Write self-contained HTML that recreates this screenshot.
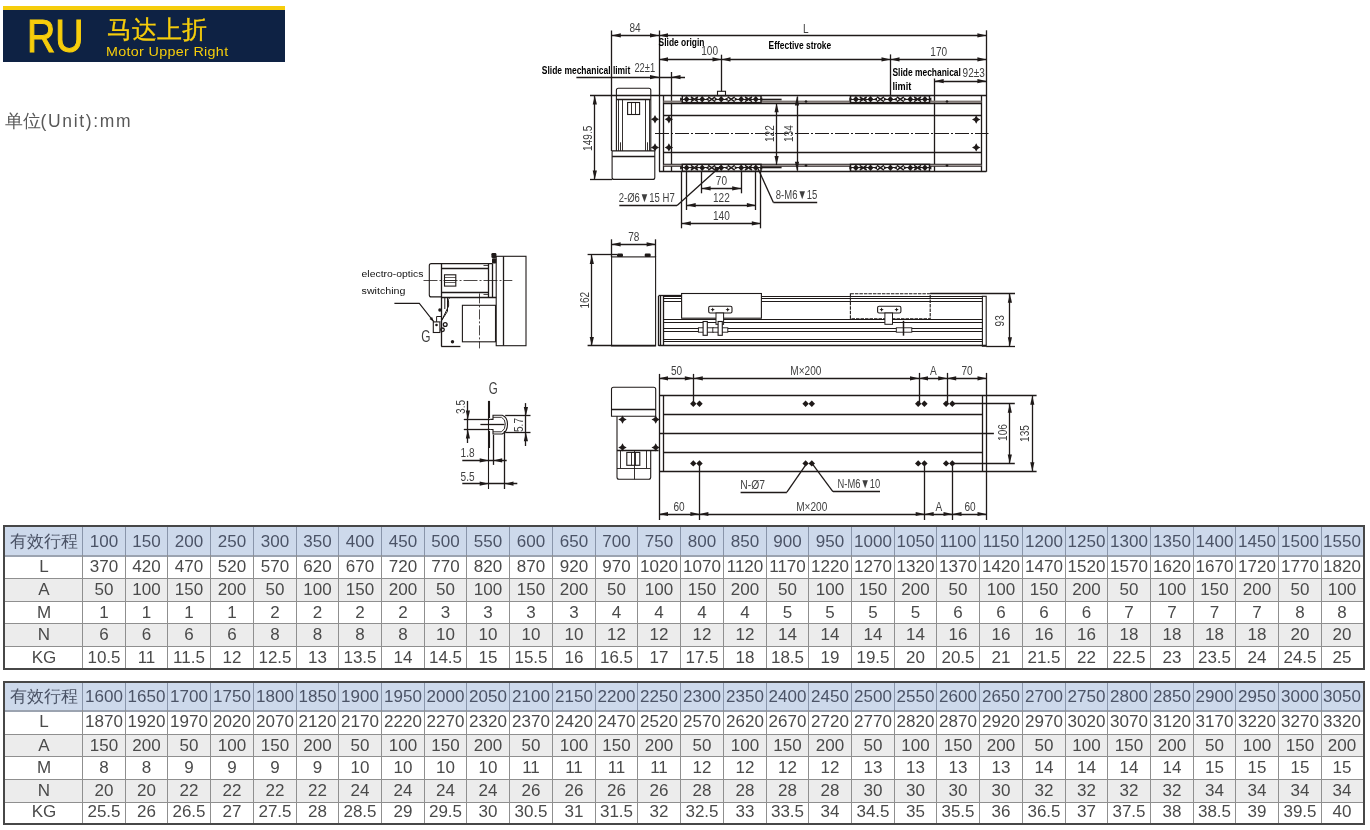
<!DOCTYPE html>
<html><head><meta charset="utf-8">
<style>
html,body{margin:0;padding:0;background:#fff;}
body{width:1370px;height:830px;position:relative;overflow:hidden;font-family:"Liberation Sans", sans-serif;}
#wrap{position:absolute;left:0;top:0;width:1370px;height:830px;will-change:transform;}
.dw{position:absolute;left:0;top:0;}
.tb{position:absolute;box-sizing:border-box;border:2px solid #474747;}
.hc,.bc{position:absolute;text-align:center;font-size:17px;color:#4a4a4a;white-space:nowrap;}
.hc{color:#4b5366;}
#hdr{position:absolute;left:2.6px;top:6px;width:282px;height:56px;background:#0e2244;}
#hdr .yb{position:absolute;left:0;top:0;width:282px;height:4.2px;background:#f6cd0b;}
#hdr .ru{position:absolute;left:24.5px;top:5.5px;font-size:45.5px;line-height:50px;color:#f6cd0b;transform:scaleX(0.86);transform-origin:0 0;-webkit-text-stroke:1.1px #f6cd0b;}
#hdr .cn{position:absolute;left:104px;top:8.5px;font-size:25px;line-height:28px;color:#f6cd0b;-webkit-text-stroke:0.3px #f6cd0b;}
#hdr .en{position:absolute;left:103.5px;top:38px;font-size:13px;line-height:15px;color:#f6cd0b;transform:scaleX(1.1);transform-origin:0 0;letter-spacing:0.3px;}
#unit{position:absolute;left:4.5px;top:111px;font-size:17.5px;line-height:20px;color:#585858;}
#unit span{letter-spacing:1.65px;}
</style></head><body>
<div id="wrap">
<div id="hdr"><div class="yb"></div><div class="ru">RU</div><div class="cn">马达上折</div><div class="en">Motor Upper Right</div></div>
<div id="unit">单位<span>(Unit):mm</span></div>
<svg class="dw" width="1370" height="830" viewBox="0 0 1370 830" font-family="Liberation Sans, sans-serif">
<line x1="611.5" y1="30.5" x2="611.5" y2="151" stroke="#1f1a19" stroke-width="1.3" />
<line x1="659.5" y1="30.5" x2="659.5" y2="171.4" stroke="#1f1a19" stroke-width="1.3" />
<line x1="986.5" y1="30.3" x2="986.5" y2="171.7" stroke="#1f1a19" stroke-width="1.3" />
<line x1="611.8" y1="35.5" x2="659" y2="35.5" stroke="#1f1a19" stroke-width="1.3" />
<path d="M611.80,35.40 L620.80,33.30 L620.80,37.50 Z" fill="#1f1a19"/>
<path d="M659.00,35.40 L650.00,37.50 L650.00,33.30 Z" fill="#1f1a19"/>
<line x1="659" y1="35.5" x2="986.4" y2="35.5" stroke="#1f1a19" stroke-width="1.3" />
<path d="M659.00,35.40 L668.00,33.30 L668.00,37.50 Z" fill="#1f1a19"/>
<path d="M986.40,35.40 L977.40,37.50 L977.40,33.30 Z" fill="#1f1a19"/>
<text transform="translate(635.00,32.32) scale(0.735,1)" text-anchor="middle" font-size="13.7" fill="#3f3f3f">84</text>
<text transform="translate(805.80,32.62) scale(0.735,1)" text-anchor="middle" font-size="13.7" fill="#3f3f3f">L</text>
<text x="658.60" y="45.55" font-size="10" font-weight="bold" fill="#000" textLength="45.8" lengthAdjust="spacingAndGlyphs">Slide origin</text>
<line x1="721.5" y1="54.7" x2="721.5" y2="91.3" stroke="#1f1a19" stroke-width="1.3" />
<line x1="890.5" y1="54.4" x2="890.5" y2="96" stroke="#1f1a19" stroke-width="1.3" />
<line x1="659" y1="59.5" x2="721.5" y2="59.5" stroke="#1f1a19" stroke-width="1.3" />
<path d="M659.00,59.40 L668.00,57.30 L668.00,61.50 Z" fill="#1f1a19"/>
<path d="M721.50,59.40 L712.50,61.50 L712.50,57.30 Z" fill="#1f1a19"/>
<line x1="721.5" y1="59.5" x2="890.5" y2="59.5" stroke="#1f1a19" stroke-width="1.3" />
<path d="M721.50,59.40 L730.50,57.30 L730.50,61.50 Z" fill="#1f1a19"/>
<path d="M890.50,59.40 L881.50,61.50 L881.50,57.30 Z" fill="#1f1a19"/>
<line x1="890.5" y1="59.5" x2="986.4" y2="59.5" stroke="#1f1a19" stroke-width="1.3" />
<path d="M890.50,59.40 L899.50,57.30 L899.50,61.50 Z" fill="#1f1a19"/>
<path d="M986.40,59.40 L977.40,61.50 L977.40,57.30 Z" fill="#1f1a19"/>
<text transform="translate(709.60,54.52) scale(0.735,1)" text-anchor="middle" font-size="13.7" fill="#3f3f3f">100</text>
<text transform="translate(938.70,55.62) scale(0.735,1)" text-anchor="middle" font-size="13.7" fill="#3f3f3f">170</text>
<text x="768.60" y="49.25" font-size="10" font-weight="bold" fill="#000" textLength="62.6" lengthAdjust="spacingAndGlyphs">Effective stroke</text>
<text x="541.80" y="74.35" font-size="10" font-weight="bold" fill="#000" textLength="88.5" lengthAdjust="spacingAndGlyphs">Slide mechanical limit</text>
<text transform="translate(644.80,72.32) scale(1,1)" text-anchor="middle" font-size="13.7" fill="#3f3f3f" textLength="20.8" lengthAdjust="spacingAndGlyphs">22±1</text>
<line x1="576.4" y1="77.5" x2="685" y2="77.5" stroke="#1f1a19" stroke-width="1.3" />
<path d="M659.00,77.10 L650.00,79.20 L650.00,75.00 Z" fill="#1f1a19"/>
<path d="M671.50,77.10 L680.50,75.00 L680.50,79.20 Z" fill="#1f1a19"/>
<line x1="671.5" y1="72" x2="671.5" y2="171.4" stroke="#1f1a19" stroke-width="1.3" />
<text x="892.50" y="75.55" font-size="10" font-weight="bold" fill="#000" textLength="68.4" lengthAdjust="spacingAndGlyphs">Slide mechanical</text>
<text x="892.50" y="90.05" font-size="10" font-weight="bold" fill="#000" textLength="18.8" lengthAdjust="spacingAndGlyphs">limit</text>
<text transform="translate(973.70,76.92) scale(1,1)" text-anchor="middle" font-size="13.7" fill="#3f3f3f" textLength="22.2" lengthAdjust="spacingAndGlyphs">92±3</text>
<line x1="934.7" y1="81.5" x2="986.4" y2="81.5" stroke="#1f1a19" stroke-width="1.3" />
<path d="M934.70,81.10 L943.70,79.00 L943.70,83.20 Z" fill="#1f1a19"/>
<path d="M986.40,81.10 L977.40,83.20 L977.40,79.00 Z" fill="#1f1a19"/>
<line x1="934.5" y1="78.5" x2="934.5" y2="171.7" stroke="#1f1a19" stroke-width="1.3" />
<line x1="590" y1="95.5" x2="986.4" y2="95.5" stroke="#1f1a19" stroke-width="1.3" />
<line x1="659" y1="171.5" x2="986.4" y2="171.5" stroke="#1f1a19" stroke-width="1.3" />
<line x1="663.5" y1="95.6" x2="663.5" y2="171.4" stroke="#1f1a19" stroke-width="1.3" />
<line x1="981.5" y1="96" x2="981.5" y2="171.4" stroke="#1f1a19" stroke-width="1.3" />
<line x1="663.5" y1="115.5" x2="981.6" y2="115.5" stroke="#1f1a19" stroke-width="1.3" />
<line x1="663.5" y1="152.5" x2="981.6" y2="152.5" stroke="#1f1a19" stroke-width="1.3" />
<line x1="655" y1="133.5" x2="988.5" y2="133.5" stroke="#1f1a19" stroke-width="1.0" stroke-dasharray="14,2,2,2"/>
<line x1="663.5" y1="103.5" x2="981.6" y2="103.5" stroke="#1f1a19" stroke-width="1.3" />
<line x1="663.5" y1="164.5" x2="981.6" y2="164.5" stroke="#1f1a19" stroke-width="1.3" />
<line x1="663.5" y1="166.5" x2="981.6" y2="166.5" stroke="#1f1a19" stroke-width="0.8" />
<rect x="663.5" y="100.6" width="318" height="2.2" fill="#7d7572"/>
<rect x="663.5" y="164.6" width="318" height="1.6" fill="#9a9290"/>
<line x1="761.6" y1="99.5" x2="781.6" y2="99.5" stroke="#1f1a19" stroke-width="1.6" />
<line x1="761.6" y1="167.5" x2="781.6" y2="167.5" stroke="#1f1a19" stroke-width="1.6" />
<rect x="682.3" y="95.8" width="78.70000000000005" height="6.8" fill="#fff" stroke="#1f1a19" stroke-width="1.5"/>
<path d="M686.6,96.0 L689.6,99.2 L686.6,102.4 L683.6,99.2 Z" fill="#1f1a19"/>
<line x1="680.6" y1="99.5" x2="692.6" y2="99.5" stroke="#1f1a19" stroke-width="1.1" />
<path d="M683.60,99.20 L680.10,101.00 L680.10,97.40 Z" fill="#1f1a19"/>
<path d="M689.60,99.20 L693.10,97.40 L693.10,101.00 Z" fill="#1f1a19"/>
<path d="M702.2,96.0 L705.2,99.2 L702.2,102.4 L699.2,99.2 Z" fill="#1f1a19"/>
<line x1="696.2" y1="99.5" x2="708.2" y2="99.5" stroke="#1f1a19" stroke-width="1.1" />
<path d="M699.20,99.20 L695.70,101.00 L695.70,97.40 Z" fill="#1f1a19"/>
<path d="M705.20,99.20 L708.70,97.40 L708.70,101.00 Z" fill="#1f1a19"/>
<path d="M721.2,96.0 L724.2,99.2 L721.2,102.4 L718.2,99.2 Z" fill="#1f1a19"/>
<line x1="715.2" y1="99.5" x2="727.2" y2="99.5" stroke="#1f1a19" stroke-width="1.1" />
<path d="M718.20,99.20 L714.70,101.00 L714.70,97.40 Z" fill="#1f1a19"/>
<path d="M724.20,99.20 L727.70,97.40 L727.70,101.00 Z" fill="#1f1a19"/>
<path d="M741.2,96.0 L744.2,99.2 L741.2,102.4 L738.2,99.2 Z" fill="#1f1a19"/>
<line x1="735.2" y1="99.5" x2="747.2" y2="99.5" stroke="#1f1a19" stroke-width="1.1" />
<path d="M738.20,99.20 L734.70,101.00 L734.70,97.40 Z" fill="#1f1a19"/>
<path d="M744.20,99.20 L747.70,97.40 L747.70,101.00 Z" fill="#1f1a19"/>
<path d="M755.8,96.0 L758.8,99.2 L755.8,102.4 L752.8,99.2 Z" fill="#1f1a19"/>
<line x1="749.8" y1="99.5" x2="761.8" y2="99.5" stroke="#1f1a19" stroke-width="1.1" />
<path d="M752.80,99.20 L749.30,101.00 L749.30,97.40 Z" fill="#1f1a19"/>
<path d="M758.80,99.20 L762.30,97.40 L762.30,101.00 Z" fill="#1f1a19"/>
<path d="M690.9000000000001,96.8 L697.9000000000001,101.60000000000001 M690.9000000000001,101.60000000000001 L697.9000000000001,96.8" fill="none" stroke="#1f1a19" stroke-width="1.4" />
<path d="M708.2,96.8 L715.2,101.60000000000001 M708.2,101.60000000000001 L715.2,96.8" fill="none" stroke="#1f1a19" stroke-width="1.4" />
<path d="M727.7,96.8 L734.7,101.60000000000001 M727.7,101.60000000000001 L734.7,96.8" fill="none" stroke="#1f1a19" stroke-width="1.4" />
<path d="M745.0,96.8 L752.0,101.60000000000001 M745.0,101.60000000000001 L752.0,96.8" fill="none" stroke="#1f1a19" stroke-width="1.4" />
<rect x="682.3" y="164.4" width="78.70000000000005" height="6.8" fill="#fff" stroke="#1f1a19" stroke-width="1.5"/>
<path d="M686.6,164.60000000000002 L689.6,167.8 L686.6,171.0 L683.6,167.8 Z" fill="#1f1a19"/>
<line x1="680.6" y1="167.5" x2="692.6" y2="167.5" stroke="#1f1a19" stroke-width="1.1" />
<path d="M683.60,167.80 L680.10,169.60 L680.10,166.00 Z" fill="#1f1a19"/>
<path d="M689.60,167.80 L693.10,166.00 L693.10,169.60 Z" fill="#1f1a19"/>
<path d="M702.2,164.60000000000002 L705.2,167.8 L702.2,171.0 L699.2,167.8 Z" fill="#1f1a19"/>
<line x1="696.2" y1="167.5" x2="708.2" y2="167.5" stroke="#1f1a19" stroke-width="1.1" />
<path d="M699.20,167.80 L695.70,169.60 L695.70,166.00 Z" fill="#1f1a19"/>
<path d="M705.20,167.80 L708.70,166.00 L708.70,169.60 Z" fill="#1f1a19"/>
<path d="M721.2,164.60000000000002 L724.2,167.8 L721.2,171.0 L718.2,167.8 Z" fill="#1f1a19"/>
<line x1="715.2" y1="167.5" x2="727.2" y2="167.5" stroke="#1f1a19" stroke-width="1.1" />
<path d="M718.20,167.80 L714.70,169.60 L714.70,166.00 Z" fill="#1f1a19"/>
<path d="M724.20,167.80 L727.70,166.00 L727.70,169.60 Z" fill="#1f1a19"/>
<path d="M741.2,164.60000000000002 L744.2,167.8 L741.2,171.0 L738.2,167.8 Z" fill="#1f1a19"/>
<line x1="735.2" y1="167.5" x2="747.2" y2="167.5" stroke="#1f1a19" stroke-width="1.1" />
<path d="M738.20,167.80 L734.70,169.60 L734.70,166.00 Z" fill="#1f1a19"/>
<path d="M744.20,167.80 L747.70,166.00 L747.70,169.60 Z" fill="#1f1a19"/>
<path d="M755.8,164.60000000000002 L758.8,167.8 L755.8,171.0 L752.8,167.8 Z" fill="#1f1a19"/>
<line x1="749.8" y1="167.5" x2="761.8" y2="167.5" stroke="#1f1a19" stroke-width="1.1" />
<path d="M752.80,167.80 L749.30,169.60 L749.30,166.00 Z" fill="#1f1a19"/>
<path d="M758.80,167.80 L762.30,166.00 L762.30,169.60 Z" fill="#1f1a19"/>
<path d="M690.9000000000001,165.4 L697.9000000000001,170.20000000000002 M690.9000000000001,170.20000000000002 L697.9000000000001,165.4" fill="none" stroke="#1f1a19" stroke-width="1.4" />
<path d="M708.2,165.4 L715.2,170.20000000000002 M708.2,170.20000000000002 L715.2,165.4" fill="none" stroke="#1f1a19" stroke-width="1.4" />
<path d="M727.7,165.4 L734.7,170.20000000000002 M727.7,170.20000000000002 L734.7,165.4" fill="none" stroke="#1f1a19" stroke-width="1.4" />
<path d="M745.0,165.4 L752.0,170.20000000000002 M745.0,170.20000000000002 L752.0,165.4" fill="none" stroke="#1f1a19" stroke-width="1.4" />
<rect x="850.5" y="95.8" width="79.0" height="6.8" fill="#fff" stroke="#1f1a19" stroke-width="1.5"/>
<path d="M855.9,96.0 L858.9,99.2 L855.9,102.4 L852.9,99.2 Z" fill="#1f1a19"/>
<line x1="849.9" y1="99.5" x2="861.9" y2="99.5" stroke="#1f1a19" stroke-width="1.1" />
<path d="M852.90,99.20 L849.40,101.00 L849.40,97.40 Z" fill="#1f1a19"/>
<path d="M858.90,99.20 L862.40,97.40 L862.40,101.00 Z" fill="#1f1a19"/>
<path d="M870.5,96.0 L873.5,99.2 L870.5,102.4 L867.5,99.2 Z" fill="#1f1a19"/>
<line x1="864.5" y1="99.5" x2="876.5" y2="99.5" stroke="#1f1a19" stroke-width="1.1" />
<path d="M867.50,99.20 L864.00,101.00 L864.00,97.40 Z" fill="#1f1a19"/>
<path d="M873.50,99.20 L877.00,97.40 L877.00,101.00 Z" fill="#1f1a19"/>
<path d="M890.4,96.0 L893.4,99.2 L890.4,102.4 L887.4,99.2 Z" fill="#1f1a19"/>
<line x1="884.4" y1="99.5" x2="896.4" y2="99.5" stroke="#1f1a19" stroke-width="1.1" />
<path d="M887.40,99.20 L883.90,101.00 L883.90,97.40 Z" fill="#1f1a19"/>
<path d="M893.40,99.20 L896.90,97.40 L896.90,101.00 Z" fill="#1f1a19"/>
<path d="M910.3,96.0 L913.3,99.2 L910.3,102.4 L907.3,99.2 Z" fill="#1f1a19"/>
<line x1="904.3" y1="99.5" x2="916.3" y2="99.5" stroke="#1f1a19" stroke-width="1.1" />
<path d="M907.30,99.20 L903.80,101.00 L903.80,97.40 Z" fill="#1f1a19"/>
<path d="M913.30,99.20 L916.80,97.40 L916.80,101.00 Z" fill="#1f1a19"/>
<path d="M924.9,96.0 L927.9,99.2 L924.9,102.4 L921.9,99.2 Z" fill="#1f1a19"/>
<line x1="918.9" y1="99.5" x2="930.9" y2="99.5" stroke="#1f1a19" stroke-width="1.1" />
<path d="M921.90,99.20 L918.40,101.00 L918.40,97.40 Z" fill="#1f1a19"/>
<path d="M927.90,99.20 L931.40,97.40 L931.40,101.00 Z" fill="#1f1a19"/>
<path d="M859.7,96.8 L866.7,101.60000000000001 M859.7,101.60000000000001 L866.7,96.8" fill="none" stroke="#1f1a19" stroke-width="1.4" />
<path d="M876.95,96.8 L883.95,101.60000000000001 M876.95,101.60000000000001 L883.95,96.8" fill="none" stroke="#1f1a19" stroke-width="1.4" />
<path d="M896.8499999999999,96.8 L903.8499999999999,101.60000000000001 M896.8499999999999,101.60000000000001 L903.8499999999999,96.8" fill="none" stroke="#1f1a19" stroke-width="1.4" />
<path d="M914.0999999999999,96.8 L921.0999999999999,101.60000000000001 M914.0999999999999,101.60000000000001 L921.0999999999999,96.8" fill="none" stroke="#1f1a19" stroke-width="1.4" />
<rect x="850.5" y="164.4" width="79.0" height="6.8" fill="#fff" stroke="#1f1a19" stroke-width="1.5"/>
<path d="M855.9,164.60000000000002 L858.9,167.8 L855.9,171.0 L852.9,167.8 Z" fill="#1f1a19"/>
<line x1="849.9" y1="167.5" x2="861.9" y2="167.5" stroke="#1f1a19" stroke-width="1.1" />
<path d="M852.90,167.80 L849.40,169.60 L849.40,166.00 Z" fill="#1f1a19"/>
<path d="M858.90,167.80 L862.40,166.00 L862.40,169.60 Z" fill="#1f1a19"/>
<path d="M870.5,164.60000000000002 L873.5,167.8 L870.5,171.0 L867.5,167.8 Z" fill="#1f1a19"/>
<line x1="864.5" y1="167.5" x2="876.5" y2="167.5" stroke="#1f1a19" stroke-width="1.1" />
<path d="M867.50,167.80 L864.00,169.60 L864.00,166.00 Z" fill="#1f1a19"/>
<path d="M873.50,167.80 L877.00,166.00 L877.00,169.60 Z" fill="#1f1a19"/>
<path d="M890.4,164.60000000000002 L893.4,167.8 L890.4,171.0 L887.4,167.8 Z" fill="#1f1a19"/>
<line x1="884.4" y1="167.5" x2="896.4" y2="167.5" stroke="#1f1a19" stroke-width="1.1" />
<path d="M887.40,167.80 L883.90,169.60 L883.90,166.00 Z" fill="#1f1a19"/>
<path d="M893.40,167.80 L896.90,166.00 L896.90,169.60 Z" fill="#1f1a19"/>
<path d="M910.3,164.60000000000002 L913.3,167.8 L910.3,171.0 L907.3,167.8 Z" fill="#1f1a19"/>
<line x1="904.3" y1="167.5" x2="916.3" y2="167.5" stroke="#1f1a19" stroke-width="1.1" />
<path d="M907.30,167.80 L903.80,169.60 L903.80,166.00 Z" fill="#1f1a19"/>
<path d="M913.30,167.80 L916.80,166.00 L916.80,169.60 Z" fill="#1f1a19"/>
<path d="M924.9,164.60000000000002 L927.9,167.8 L924.9,171.0 L921.9,167.8 Z" fill="#1f1a19"/>
<line x1="918.9" y1="167.5" x2="930.9" y2="167.5" stroke="#1f1a19" stroke-width="1.1" />
<path d="M921.90,167.80 L918.40,169.60 L918.40,166.00 Z" fill="#1f1a19"/>
<path d="M927.90,167.80 L931.40,166.00 L931.40,169.60 Z" fill="#1f1a19"/>
<path d="M859.7,165.4 L866.7,170.20000000000002 M859.7,170.20000000000002 L866.7,165.4" fill="none" stroke="#1f1a19" stroke-width="1.4" />
<path d="M876.95,165.4 L883.95,170.20000000000002 M876.95,170.20000000000002 L883.95,165.4" fill="none" stroke="#1f1a19" stroke-width="1.4" />
<path d="M896.8499999999999,165.4 L903.8499999999999,170.20000000000002 M896.8499999999999,170.20000000000002 L903.8499999999999,165.4" fill="none" stroke="#1f1a19" stroke-width="1.4" />
<path d="M914.0999999999999,165.4 L921.0999999999999,170.20000000000002 M914.0999999999999,170.20000000000002 L921.0999999999999,165.4" fill="none" stroke="#1f1a19" stroke-width="1.4" />
<rect x="717.5" y="91.3" width="8" height="4.3" rx="0" fill="none" stroke="#1f1a19" stroke-width="1.1" />
<line x1="776.5" y1="103.3" x2="776.5" y2="165" stroke="#1f1a19" stroke-width="1.3" />
<path d="M776.60,103.30 L778.70,112.30 L774.50,112.30 Z" fill="#1f1a19"/>
<path d="M776.60,165.00 L774.50,156.00 L778.70,156.00 Z" fill="#1f1a19"/>
<line x1="797.5" y1="96.4" x2="797.5" y2="170.8" stroke="#1f1a19" stroke-width="1.3" />
<path d="M797.00,96.40 L799.10,105.40 L794.90,105.40 Z" fill="#1f1a19"/>
<path d="M797.00,170.80 L794.90,161.80 L799.10,161.80 Z" fill="#1f1a19"/>
<text transform="translate(773.52,133.60) rotate(-90) scale(0.735,1)" text-anchor="middle" font-size="13.7" fill="#3f3f3f">122</text>
<text transform="translate(792.92,133.60) rotate(-90) scale(0.735,1)" text-anchor="middle" font-size="13.7" fill="#3f3f3f">134</text>
<path d="M655,115.1 L656.5,117.8 L659.2,119.3 L656.5,120.8 L655,123.5 L653.5,120.8 L650.8,119.3 L653.5,117.8 Z" fill="#1f1a19"/>
<path d="M655,143.20000000000002 L656.5,145.9 L659.2,147.4 L656.5,148.9 L655,151.6 L653.5,148.9 L650.8,147.4 L653.5,145.9 Z" fill="#1f1a19"/>
<path d="M668.9,115.1 L670.4,117.8 L673.1,119.3 L670.4,120.8 L668.9,123.5 L667.4,120.8 L664.6999999999999,119.3 L667.4,117.8 Z" fill="#1f1a19"/>
<path d="M668.9,143.20000000000002 L670.4,145.9 L673.1,147.4 L670.4,148.9 L668.9,151.6 L667.4,148.9 L664.6999999999999,147.4 L667.4,145.9 Z" fill="#1f1a19"/>
<path d="M976.2,115.3 L977.7,118.0 L980.4000000000001,119.5 L977.7,121.0 L976.2,123.7 L974.7,121.0 L972.0,119.5 L974.7,118.0 Z" fill="#1f1a19"/>
<path d="M976.2,143.20000000000002 L977.7,145.9 L980.4000000000001,147.4 L977.7,148.9 L976.2,151.6 L974.7,148.9 L972.0,147.4 L974.7,145.9 Z" fill="#1f1a19"/>
<path d="M806,99.9 L807.6,101.5 L806,103.1 L804.4,101.5 Z" fill="#1f1a19"/>
<path d="M806,163.9 L807.6,165.5 L806,167.1 L804.4,165.5 Z" fill="#1f1a19"/>
<path d="M947,99.9 L948.6,101.5 L947,103.1 L945.4,101.5 Z" fill="#1f1a19"/>
<path d="M947,163.9 L948.6,165.5 L947,167.1 L945.4,165.5 Z" fill="#1f1a19"/>
<path d="M616.4,150.9 L616.4,90.2 Q616.4,88.2 618.4,88.2 L648.8,88.2 Q650.8,88.2 650.8,90.2 L650.8,150.9" fill="none" stroke="#1f1a19" stroke-width="1.1" />
<line x1="616.4" y1="99.5" x2="650.8" y2="99.5" stroke="#1f1a19" stroke-width="1.3" />
<line x1="618.5" y1="99.2" x2="618.5" y2="150.9" stroke="#1f1a19" stroke-width="0.9" />
<line x1="622.5" y1="99.2" x2="622.5" y2="150.9" stroke="#1f1a19" stroke-width="0.9" />
<line x1="645.5" y1="99.2" x2="645.5" y2="150.9" stroke="#1f1a19" stroke-width="0.9" />
<line x1="649.5" y1="99.2" x2="649.5" y2="150.9" stroke="#1f1a19" stroke-width="0.9" />
<rect x="627.6" y="102.5" width="12" height="12" rx="0" fill="none" stroke="#1f1a19" stroke-width="1.1" />
<line x1="620.5" y1="142.3" x2="620.5" y2="150.9" stroke="#1f1a19" stroke-width="0.9" />
<line x1="647.5" y1="142.3" x2="647.5" y2="150.9" stroke="#1f1a19" stroke-width="0.9" />
<line x1="631.5" y1="102.5" x2="631.5" y2="114.5" stroke="#1f1a19" stroke-width="0.9" />
<line x1="635.5" y1="102.5" x2="635.5" y2="114.5" stroke="#1f1a19" stroke-width="0.9" />
<path d="M612.1,150.9 L654.8,150.9 L654.8,177.4 Q654.8,179.4 652.8,179.4 L614.1,179.4 Q612.1,179.4 612.1,177.4 Z" fill="none" stroke="#1f1a19" stroke-width="1.1" />
<line x1="612.1" y1="156.5" x2="654.8" y2="156.5" stroke="#1f1a19" stroke-width="1.3" />
<line x1="590" y1="179.5" x2="612.1" y2="179.5" stroke="#1f1a19" stroke-width="1.3" />
<line x1="594.5" y1="95.6" x2="594.5" y2="179.4" stroke="#1f1a19" stroke-width="1.3" />
<path d="M594.80,95.60 L596.90,104.60 L592.70,104.60 Z" fill="#1f1a19"/>
<path d="M594.80,179.40 L592.70,170.40 L596.90,170.40 Z" fill="#1f1a19"/>
<text transform="translate(591.72,138.30) rotate(-90) scale(0.735,1)" text-anchor="middle" font-size="13.7" fill="#3f3f3f">149.5</text>
<line x1="681.5" y1="171.4" x2="681.5" y2="228.3" stroke="#1f1a19" stroke-width="1.3" />
<line x1="760.5" y1="171.4" x2="760.5" y2="228.3" stroke="#1f1a19" stroke-width="1.3" />
<line x1="681.8" y1="223.5" x2="760.8" y2="223.5" stroke="#1f1a19" stroke-width="1.3" />
<path d="M681.80,223.40 L690.80,221.30 L690.80,225.50 Z" fill="#1f1a19"/>
<path d="M760.80,223.40 L751.80,225.50 L751.80,221.30 Z" fill="#1f1a19"/>
<text transform="translate(721.40,219.72) scale(0.735,1)" text-anchor="middle" font-size="13.7" fill="#3f3f3f">140</text>
<line x1="686.5" y1="171.4" x2="686.5" y2="210" stroke="#1f1a19" stroke-width="1.3" />
<line x1="755.5" y1="171.4" x2="755.5" y2="210" stroke="#1f1a19" stroke-width="1.3" />
<line x1="686.7" y1="205.5" x2="755.9" y2="205.5" stroke="#1f1a19" stroke-width="1.3" />
<path d="M686.70,205.20 L695.70,203.10 L695.70,207.30 Z" fill="#1f1a19"/>
<path d="M755.90,205.20 L746.90,207.30 L746.90,203.10 Z" fill="#1f1a19"/>
<text transform="translate(721.40,201.62) scale(0.735,1)" text-anchor="middle" font-size="13.7" fill="#3f3f3f">122</text>
<line x1="701.5" y1="171.4" x2="701.5" y2="193.3" stroke="#1f1a19" stroke-width="1.3" />
<line x1="741.5" y1="171.4" x2="741.5" y2="193.3" stroke="#1f1a19" stroke-width="1.3" />
<line x1="701.6" y1="188.5" x2="741.2" y2="188.5" stroke="#1f1a19" stroke-width="1.3" />
<path d="M701.60,188.40 L710.60,186.30 L710.60,190.50 Z" fill="#1f1a19"/>
<path d="M741.20,188.40 L732.20,190.50 L732.20,186.30 Z" fill="#1f1a19"/>
<text transform="translate(721.40,185.22) scale(0.735,1)" text-anchor="middle" font-size="13.7" fill="#3f3f3f">70</text>
<text transform="translate(646.70,201.62) scale(1,1)" text-anchor="middle" font-size="13.7" fill="#3f3f3f" textLength="56" lengthAdjust="spacingAndGlyphs">2-Ø6▼15 H7</text>
<line x1="619.3" y1="205.5" x2="677.1" y2="205.5" stroke="#1f1a19" stroke-width="1.3" />
<line x1="677.1" y1="205.5" x2="720.9" y2="166.1" stroke="#1f1a19" stroke-width="1.3" />
<path d="M720.90,166.10 L717.03,172.27 L714.36,169.29 Z" fill="#1f1a19"/>
<text transform="translate(796.60,199.02) scale(1,1)" text-anchor="middle" font-size="13.7" fill="#3f3f3f" textLength="41.6" lengthAdjust="spacingAndGlyphs">8-M6▼15</text>
<line x1="773.4" y1="202.5" x2="817.2" y2="202.5" stroke="#1f1a19" stroke-width="1.3" />
<line x1="773.4" y1="202.4" x2="757.7" y2="167.9" stroke="#1f1a19" stroke-width="1.3" />
<line x1="611.5" y1="239.3" x2="611.5" y2="257" stroke="#1f1a19" stroke-width="1.3" />
<line x1="655.5" y1="239.3" x2="655.5" y2="257" stroke="#1f1a19" stroke-width="1.3" />
<line x1="611.6" y1="244.5" x2="655.6" y2="244.5" stroke="#1f1a19" stroke-width="1.3" />
<path d="M611.60,244.30 L620.60,242.20 L620.60,246.40 Z" fill="#1f1a19"/>
<path d="M655.60,244.30 L646.60,246.40 L646.60,242.20 Z" fill="#1f1a19"/>
<text transform="translate(633.80,240.92) scale(0.735,1)" text-anchor="middle" font-size="13.7" fill="#3f3f3f">78</text>
<line x1="587.6" y1="254.5" x2="617" y2="254.5" stroke="#1f1a19" stroke-width="1.3" />
<line x1="587.6" y1="345.5" x2="655.6" y2="345.5" stroke="#1f1a19" stroke-width="1.3" />
<line x1="591.5" y1="254.9" x2="591.5" y2="345.9" stroke="#1f1a19" stroke-width="1.3" />
<path d="M591.80,254.90 L593.90,263.90 L589.70,263.90 Z" fill="#1f1a19"/>
<path d="M591.80,345.90 L589.70,336.90 L593.90,336.90 Z" fill="#1f1a19"/>
<text transform="translate(588.82,300.20) rotate(-90) scale(0.735,1)" text-anchor="middle" font-size="13.7" fill="#3f3f3f">162</text>
<rect x="611.6" y="256.9" width="44" height="89" rx="0" fill="none" stroke="#1f1a19" stroke-width="1.1" />
<rect x="617" y="253.6" width="6" height="3.3" rx="1.2" fill="#1f1a19"/>
<rect x="644.7" y="253.6" width="6" height="3.3" rx="1.2" fill="#1f1a19"/>
<line x1="658.5" y1="295.8" x2="658.5" y2="345.9" stroke="#1f1a19" stroke-width="1.3" />
<line x1="660.5" y1="295.8" x2="660.5" y2="345.9" stroke="#1f1a19" stroke-width="1.3" />
<line x1="663.5" y1="295.8" x2="663.5" y2="345.9" stroke="#1f1a19" stroke-width="1.3" />
<line x1="658.6" y1="295.5" x2="681.6" y2="295.5" stroke="#1f1a19" stroke-width="1.3" />
<line x1="663.2" y1="296.5" x2="982.4" y2="296.5" stroke="#1f1a19" stroke-width="1.1" />
<line x1="663.2" y1="298.5" x2="982.4" y2="298.5" stroke="#1f1a19" stroke-width="1.1" />
<line x1="663.2" y1="301.5" x2="982.4" y2="301.5" stroke="#1f1a19" stroke-width="1.1" />
<line x1="663.2" y1="319.5" x2="982.4" y2="319.5" stroke="#1f1a19" stroke-width="1.1" />
<line x1="663.2" y1="322.5" x2="982.4" y2="322.5" stroke="#1f1a19" stroke-width="1.1" />
<line x1="663.2" y1="328.5" x2="982.4" y2="328.5" stroke="#1f1a19" stroke-width="1.1" />
<line x1="663.2" y1="331.5" x2="982.4" y2="331.5" stroke="#1f1a19" stroke-width="1.1" />
<line x1="663.2" y1="339.5" x2="982.4" y2="339.5" stroke="#1f1a19" stroke-width="1.1" />
<line x1="663.2" y1="341.5" x2="982.4" y2="341.5" stroke="#1f1a19" stroke-width="1.1" />
<line x1="663.2" y1="345.5" x2="982.4" y2="345.5" stroke="#1f1a19" stroke-width="1.1" />
<line x1="658.6" y1="345.5" x2="986.2" y2="345.5" stroke="#1f1a19" stroke-width="1.3" />
<rect x="982.4" y="296.3" width="3.8" height="49.9" rx="0" fill="none" stroke="#1f1a19" stroke-width="1.1" />
<rect x="681.6" y="293.5" width="79.8" height="24.7" fill="#fff" stroke="#1f1a19" stroke-width="1.1"/>
<rect x="850.4" y="293.7" width="79.8" height="25" fill="none" stroke="#1f1a19" stroke-width="1.1" stroke-dasharray="3.5,1"/>
<rect x="708.7" y="306.2" width="23.3" height="6.8" rx="1.5" fill="none" stroke="#1f1a19" stroke-width="1.1" />
<path d="M712.7,307.40000000000003 L713.4000000000001,308.90000000000003 L714.9000000000001,309.6 L713.4000000000001,310.3 L712.7,311.8 L712.0,310.3 L710.5,309.6 L712.0,308.90000000000003 Z" fill="#1f1a19"/>
<path d="M727.7,307.40000000000003 L728.4000000000001,308.90000000000003 L729.9000000000001,309.6 L728.4000000000001,310.3 L727.7,311.8 L727.0,310.3 L725.5,309.6 L727.0,308.90000000000003 Z" fill="#1f1a19"/>
<rect x="716.0" y="313" width="7.6" height="11.3" fill="#fff" stroke="#1f1a19" stroke-width="1.0"/>
<rect x="877.6" y="306.2" width="23.3" height="6.8" rx="1.5" fill="none" stroke="#1f1a19" stroke-width="1.1" />
<path d="M881.6,307.40000000000003 L882.3000000000001,308.90000000000003 L883.8000000000001,309.6 L882.3000000000001,310.3 L881.6,311.8 L880.9,310.3 L879.4,309.6 L880.9,308.90000000000003 Z" fill="#1f1a19"/>
<path d="M896.6,307.40000000000003 L897.3000000000001,308.90000000000003 L898.8000000000001,309.6 L897.3000000000001,310.3 L896.6,311.8 L895.9,310.3 L894.4,309.6 L895.9,308.90000000000003 Z" fill="#1f1a19"/>
<rect x="884.9" y="313" width="7.6" height="11.3" fill="#fff" stroke="#1f1a19" stroke-width="1.0"/>
<rect x="698.4" y="327.8" width="15" height="4.4" fill="#fff" stroke="#1f1a19" stroke-width="0.9"/>
<rect x="712.8" y="327.8" width="15" height="4.4" fill="#fff" stroke="#1f1a19" stroke-width="0.9"/>
<rect x="703.1" y="321.5" width="4.2" height="13.8" fill="#fff" stroke="#1f1a19" stroke-width="1.1"/>
<rect x="718.1" y="321.5" width="4.2" height="13.8" fill="#fff" stroke="#1f1a19" stroke-width="1.1"/>
<rect x="896.3" y="327.8" width="15.5" height="4.4" fill="#fff" stroke="#1f1a19" stroke-width="0.9"/>
<line x1="903.5" y1="320.8" x2="903.5" y2="335.7" stroke="#1f1a19" stroke-width="1.5" />
<line x1="930.2" y1="293.5" x2="1015" y2="293.5" stroke="#1f1a19" stroke-width="1.3" />
<line x1="986.2" y1="346.5" x2="1015" y2="346.5" stroke="#1f1a19" stroke-width="1.3" />
<line x1="1009.5" y1="293.7" x2="1009.5" y2="346.2" stroke="#1f1a19" stroke-width="1.3" />
<path d="M1009.90,293.70 L1012.00,302.70 L1007.80,302.70 Z" fill="#1f1a19"/>
<path d="M1009.90,346.20 L1007.80,337.20 L1012.00,337.20 Z" fill="#1f1a19"/>
<text transform="translate(1003.92,320.80) rotate(-90) scale(0.735,1)" text-anchor="middle" font-size="13.7" fill="#3f3f3f">93</text>
<text x="361.60" y="277.11" font-size="9.6" font-weight="normal" fill="#111" textLength="61.8" lengthAdjust="spacingAndGlyphs">electro-optics</text>
<text x="361.60" y="294.01" font-size="9.6" font-weight="normal" fill="#111" textLength="43.8" lengthAdjust="spacingAndGlyphs">switching</text>
<path d="M394.4,303.4 L419.3,303.4 L433.9,321.8" fill="none" stroke="#1f1a19" stroke-width="1.1" />
<path d="M433.90,321.80 L429.54,318.88 L432.05,316.89 Z" fill="#1f1a19"/>
<text transform="translate(425.90,341.84) scale(0.72,1)" text-anchor="middle" font-size="16.5" fill="#3f3f3f">G</text>
<path d="M441.2,296.9 L431.3,296.9 Q429.3,296.9 429.3,294.9 L429.3,265.6 Q429.3,263.6 431.3,263.6 L492.6,263.6" fill="none" stroke="#1f1a19" stroke-width="1.1" />
<line x1="441.5" y1="263.6" x2="441.5" y2="346.4" stroke="#1f1a19" stroke-width="1.3" />
<line x1="441.2" y1="268.5" x2="488.9" y2="268.5" stroke="#1f1a19" stroke-width="1.3" />
<line x1="441.2" y1="292.5" x2="488.9" y2="292.5" stroke="#1f1a19" stroke-width="1.3" />
<line x1="483.5" y1="265.5" x2="488.9" y2="265.5" stroke="#1f1a19" stroke-width="0.8" />
<line x1="483.5" y1="294.5" x2="488.9" y2="294.5" stroke="#1f1a19" stroke-width="0.8" />
<line x1="488.5" y1="263.6" x2="488.5" y2="297.4" stroke="#1f1a19" stroke-width="1.3" />
<line x1="492.5" y1="263.6" x2="492.5" y2="297.4" stroke="#1f1a19" stroke-width="1.3" />
<line x1="441.2" y1="297.5" x2="496.2" y2="297.5" stroke="#1f1a19" stroke-width="1.3" />
<rect x="444.5" y="274.8" width="11.3" height="11.3" rx="0" fill="none" stroke="#1f1a19" stroke-width="1.1" />
<line x1="444.5" y1="277.5" x2="455.8" y2="277.5" stroke="#1f1a19" stroke-width="0.7" />
<line x1="444.5" y1="280.5" x2="455.8" y2="280.5" stroke="#1f1a19" stroke-width="0.7" />
<line x1="444.5" y1="282.5" x2="455.8" y2="282.5" stroke="#1f1a19" stroke-width="0.7" />
<line x1="423.5" y1="280.5" x2="512.3" y2="280.5" stroke="#1f1a19" stroke-width="0.8" stroke-dasharray="14,2,2,2"/>
<rect x="496.2" y="256.3" width="29.8" height="89.4" rx="0" fill="none" stroke="#1f1a19" stroke-width="1.1" />
<line x1="503.5" y1="256.3" x2="503.5" y2="345.7" stroke="#1f1a19" stroke-width="1.3" />
<rect x="491.4" y="253" width="5" height="5" rx="1.2" fill="#1f1a19"/>
<rect x="492" y="258.3" width="4.2" height="5.3" rx="1" fill="#1f1a19"/>
<line x1="441.2" y1="346.5" x2="460.4" y2="346.5" stroke="#1f1a19" stroke-width="1.3" />
<rect x="462.4" y="305.3" width="33.1" height="36.5" rx="0" fill="none" stroke="#1f1a19" stroke-width="1.1" />
<line x1="479.5" y1="293.4" x2="479.5" y2="348.4" stroke="#1f1a19" stroke-width="0.8" stroke-dasharray="10,2,2,2"/>
<path d="M447.5,297.4 L447.5,311.3 L441.9,320 M444.8,297.4 L444.8,309" fill="none" stroke="#1f1a19" stroke-width="1.0" />
<path d="M450,297.6 Q447,299 448.6,302 L448.6,306 L441.2,321.5" fill="none" stroke="#1f1a19" stroke-width="1.0" />
<rect x="433.3" y="321.9" width="6.6" height="10.6" rx="0" fill="none" stroke="#1f1a19" stroke-width="1.1" />
<path d="M436.6,321.9 L436.6,316.5 L441.2,316.5" fill="none" stroke="#1f1a19" stroke-width="1.0" />
<circle cx="439.9" cy="310" r="1.7" fill="#1f1a19"/>
<circle cx="445.2" cy="324.5" r="1.9" fill="none" stroke="#1f1a19" stroke-width="1.3"/>
<circle cx="442.5" cy="329.8" r="1.8" fill="none" stroke="#1f1a19" stroke-width="1.3"/>
<circle cx="452.5" cy="341.8" r="1.7" fill="#1f1a19"/>
<circle cx="436.5" cy="325" r="1.3" fill="#1f1a19"/>
<line x1="659.5" y1="373.9" x2="659.5" y2="520" stroke="#1f1a19" stroke-width="1.3" />
<line x1="986.5" y1="372.9" x2="986.5" y2="520" stroke="#1f1a19" stroke-width="1.3" />
<line x1="693.5" y1="373.9" x2="693.5" y2="403.7" stroke="#1f1a19" stroke-width="1.3" />
<line x1="919.5" y1="372.9" x2="919.5" y2="403.7" stroke="#1f1a19" stroke-width="1.3" />
<line x1="947.5" y1="372.9" x2="947.5" y2="403.7" stroke="#1f1a19" stroke-width="1.3" />
<line x1="659" y1="378.5" x2="986.5" y2="378.5" stroke="#1f1a19" stroke-width="1.3" />
<path d="M659.00,378.30 L668.00,376.20 L668.00,380.40 Z" fill="#1f1a19"/>
<path d="M693.80,378.30 L684.80,380.40 L684.80,376.20 Z" fill="#1f1a19"/>
<path d="M693.80,378.30 L702.80,376.20 L702.80,380.40 Z" fill="#1f1a19"/>
<path d="M919.00,378.30 L910.00,380.40 L910.00,376.20 Z" fill="#1f1a19"/>
<path d="M919.00,378.30 L928.00,376.20 L928.00,380.40 Z" fill="#1f1a19"/>
<path d="M947.20,378.30 L938.20,380.40 L938.20,376.20 Z" fill="#1f1a19"/>
<path d="M947.20,378.30 L956.20,376.20 L956.20,380.40 Z" fill="#1f1a19"/>
<path d="M986.50,378.30 L977.50,380.40 L977.50,376.20 Z" fill="#1f1a19"/>
<text transform="translate(676.50,375.42) scale(0.735,1)" text-anchor="middle" font-size="13.7" fill="#3f3f3f">50</text>
<text transform="translate(805.80,375.02) scale(0.735,1)" text-anchor="middle" font-size="13.7" fill="#3f3f3f">M×200</text>
<text transform="translate(933.30,375.42) scale(0.735,1)" text-anchor="middle" font-size="13.7" fill="#3f3f3f">A</text>
<text transform="translate(967.00,375.42) scale(0.735,1)" text-anchor="middle" font-size="13.7" fill="#3f3f3f">70</text>
<line x1="699.5" y1="463.4" x2="699.5" y2="520" stroke="#1f1a19" stroke-width="1.3" />
<line x1="924.5" y1="463.4" x2="924.5" y2="520" stroke="#1f1a19" stroke-width="1.3" />
<line x1="952.5" y1="463.4" x2="952.5" y2="520" stroke="#1f1a19" stroke-width="1.3" />
<line x1="659" y1="514.5" x2="986.5" y2="514.5" stroke="#1f1a19" stroke-width="1.3" />
<path d="M659.00,514.00 L668.00,511.90 L668.00,516.10 Z" fill="#1f1a19"/>
<path d="M699.40,514.00 L690.40,516.10 L690.40,511.90 Z" fill="#1f1a19"/>
<path d="M699.40,514.00 L708.40,511.90 L708.40,516.10 Z" fill="#1f1a19"/>
<path d="M924.70,514.00 L915.70,516.10 L915.70,511.90 Z" fill="#1f1a19"/>
<path d="M924.70,514.00 L933.70,511.90 L933.70,516.10 Z" fill="#1f1a19"/>
<path d="M952.50,514.00 L943.50,516.10 L943.50,511.90 Z" fill="#1f1a19"/>
<path d="M952.50,514.00 L961.50,511.90 L961.50,516.10 Z" fill="#1f1a19"/>
<path d="M986.50,514.00 L977.50,516.10 L977.50,511.90 Z" fill="#1f1a19"/>
<text transform="translate(679.10,511.22) scale(0.735,1)" text-anchor="middle" font-size="13.7" fill="#3f3f3f">60</text>
<text transform="translate(811.70,511.22) scale(0.735,1)" text-anchor="middle" font-size="13.7" fill="#3f3f3f">M×200</text>
<text transform="translate(938.80,511.22) scale(0.735,1)" text-anchor="middle" font-size="13.7" fill="#3f3f3f">A</text>
<text transform="translate(970.00,511.22) scale(0.735,1)" text-anchor="middle" font-size="13.7" fill="#3f3f3f">60</text>
<line x1="659" y1="395.5" x2="1036.6" y2="395.5" stroke="#1f1a19" stroke-width="1.3" />
<line x1="659" y1="471.5" x2="1036.6" y2="471.5" stroke="#1f1a19" stroke-width="1.3" />
<line x1="663.5" y1="395.8" x2="663.5" y2="471.3" stroke="#1f1a19" stroke-width="1.3" />
<line x1="982.5" y1="395.8" x2="982.5" y2="471.3" stroke="#1f1a19" stroke-width="1.3" />
<line x1="663.2" y1="414.5" x2="982" y2="414.5" stroke="#1f1a19" stroke-width="1.3" />
<line x1="663.2" y1="452.5" x2="982" y2="452.5" stroke="#1f1a19" stroke-width="1.3" />
<line x1="659" y1="433.5" x2="993.9" y2="433.5" stroke="#1f1a19" stroke-width="1.3" />
<path d="M693.3,400.5 L696.5,403.7 L693.3,406.9 L690.0999999999999,403.7 Z" fill="#1f1a19"/>
<path d="M699.5,400.5 L702.7,403.7 L699.5,406.9 L696.3,403.7 Z" fill="#1f1a19"/>
<path d="M693.3,460.2 L696.5,463.4 L693.3,466.59999999999997 L690.0999999999999,463.4 Z" fill="#1f1a19"/>
<path d="M699.5,460.2 L702.7,463.4 L699.5,466.59999999999997 L696.3,463.4 Z" fill="#1f1a19"/>
<path d="M805.6,400.5 L808.8000000000001,403.7 L805.6,406.9 L802.4,403.7 Z" fill="#1f1a19"/>
<path d="M811.8000000000001,400.5 L815.0000000000001,403.7 L811.8000000000001,406.9 L808.6,403.7 Z" fill="#1f1a19"/>
<path d="M805.6,460.2 L808.8000000000001,463.4 L805.6,466.59999999999997 L802.4,463.4 Z" fill="#1f1a19"/>
<path d="M811.8000000000001,460.2 L815.0000000000001,463.4 L811.8000000000001,466.59999999999997 L808.6,463.4 Z" fill="#1f1a19"/>
<path d="M918.1999999999999,400.5 L921.4,403.7 L918.1999999999999,406.9 L914.9999999999999,403.7 Z" fill="#1f1a19"/>
<path d="M924.4,400.5 L927.6,403.7 L924.4,406.9 L921.1999999999999,403.7 Z" fill="#1f1a19"/>
<path d="M918.1999999999999,460.2 L921.4,463.4 L918.1999999999999,466.59999999999997 L914.9999999999999,463.4 Z" fill="#1f1a19"/>
<path d="M924.4,460.2 L927.6,463.4 L924.4,466.59999999999997 L921.1999999999999,463.4 Z" fill="#1f1a19"/>
<path d="M946.1,400.5 L949.3000000000001,403.7 L946.1,406.9 L942.9,403.7 Z" fill="#1f1a19"/>
<path d="M952.3000000000001,400.5 L955.5000000000001,403.7 L952.3000000000001,406.9 L949.1,403.7 Z" fill="#1f1a19"/>
<path d="M946.1,460.2 L949.3000000000001,463.4 L946.1,466.59999999999997 L942.9,463.4 Z" fill="#1f1a19"/>
<path d="M952.3000000000001,460.2 L955.5000000000001,463.4 L952.3000000000001,466.59999999999997 L949.1,463.4 Z" fill="#1f1a19"/>
<line x1="953" y1="403.5" x2="1014.8" y2="403.5" stroke="#1f1a19" stroke-width="1.3" />
<line x1="953" y1="463.5" x2="1014.8" y2="463.5" stroke="#1f1a19" stroke-width="1.3" />
<line x1="1009.5" y1="403.7" x2="1009.5" y2="463.4" stroke="#1f1a19" stroke-width="1.3" />
<path d="M1009.80,403.70 L1011.90,412.70 L1007.70,412.70 Z" fill="#1f1a19"/>
<path d="M1009.80,463.40 L1007.70,454.40 L1011.90,454.40 Z" fill="#1f1a19"/>
<text transform="translate(1006.92,432.50) rotate(-90) scale(0.735,1)" text-anchor="middle" font-size="13.7" fill="#3f3f3f">106</text>
<line x1="1032.5" y1="395.8" x2="1032.5" y2="471.3" stroke="#1f1a19" stroke-width="1.3" />
<path d="M1032.30,395.80 L1034.40,404.80 L1030.20,404.80 Z" fill="#1f1a19"/>
<path d="M1032.30,471.30 L1030.20,462.30 L1034.40,462.30 Z" fill="#1f1a19"/>
<text transform="translate(1029.22,433.50) rotate(-90) scale(0.735,1)" text-anchor="middle" font-size="13.7" fill="#3f3f3f">135</text>
<text transform="translate(752.60,489.12) scale(1,1)" text-anchor="middle" font-size="13.7" fill="#3f3f3f" textLength="24.6" lengthAdjust="spacingAndGlyphs">N-Ø7</text>
<line x1="740.6" y1="492.5" x2="786.9" y2="492.5" stroke="#1f1a19" stroke-width="1.3" />
<line x1="786.9" y1="492.2" x2="806.8" y2="463.4" stroke="#1f1a19" stroke-width="1.3" />
<text transform="translate(858.90,488.32) scale(1,1)" text-anchor="middle" font-size="13.7" fill="#3f3f3f" textLength="42.6" lengthAdjust="spacingAndGlyphs">N-M6▼10</text>
<line x1="832.9" y1="491.5" x2="880" y2="491.5" stroke="#1f1a19" stroke-width="1.3" />
<line x1="832.9" y1="491.6" x2="812" y2="463.4" stroke="#1f1a19" stroke-width="1.3" />
<path d="M611.5,409.7 L611.5,389.2 Q611.5,387.2 613.5,387.2 L653.7,387.2 Q655.7,387.2 655.7,389.2 L655.7,416.2 L611.5,416.2 Z" fill="none" stroke="#1f1a19" stroke-width="1.1" />
<line x1="611.5" y1="409.5" x2="655.7" y2="409.5" stroke="#1f1a19" stroke-width="1.3" />
<path d="M617,416.2 L617,477.3 Q617,479.3 619,479.3 L648.7,479.3 Q650.7,479.3 650.7,477.3 L650.7,450.4" fill="none" stroke="#1f1a19" stroke-width="1.1" />
<line x1="617" y1="450.5" x2="658.6" y2="450.5" stroke="#1f1a19" stroke-width="1.3" />
<line x1="634.5" y1="450.4" x2="634.5" y2="479.3" stroke="#1f1a19" stroke-width="0.9" />
<line x1="617" y1="468.5" x2="650.7" y2="468.5" stroke="#1f1a19" stroke-width="0.9" />
<line x1="620.5" y1="450.4" x2="620.5" y2="468" stroke="#1f1a19" stroke-width="0.9" />
<line x1="646.5" y1="450.4" x2="646.5" y2="468" stroke="#1f1a19" stroke-width="0.9" />
<rect x="626.8" y="452.4" width="13" height="12.9" rx="0" fill="none" stroke="#1f1a19" stroke-width="1.1" />
<line x1="631.5" y1="452.4" x2="631.5" y2="465.3" stroke="#1f1a19" stroke-width="0.9" />
<line x1="635.5" y1="452.4" x2="635.5" y2="465.3" stroke="#1f1a19" stroke-width="0.9" />
<path d="M622.5,415.40000000000003 L624.0,418.1 L626.7,419.6 L624.0,421.1 L622.5,423.8 L621.0,421.1 L618.3,419.6 L621.0,418.1 Z" fill="#1f1a19"/>
<path d="M655.7,415.40000000000003 L657.2,418.1 L659.9000000000001,419.6 L657.2,421.1 L655.7,423.8 L654.2,421.1 L651.5,419.6 L654.2,418.1 Z" fill="#1f1a19"/>
<path d="M622.5,443.2 L624.0,445.9 L626.7,447.4 L624.0,448.9 L622.5,451.59999999999997 L621.0,448.9 L618.3,447.4 L621.0,445.9 Z" fill="#1f1a19"/>
<path d="M655.7,443.2 L657.2,445.9 L659.9000000000001,447.4 L657.2,448.9 L655.7,451.59999999999997 L654.2,448.9 L651.5,447.4 L654.2,445.9 Z" fill="#1f1a19"/>
<text transform="translate(493.20,393.68) scale(0.72,1)" text-anchor="middle" font-size="16" fill="#3f3f3f">G</text>
<line x1="488.5" y1="400.9" x2="488.5" y2="489" stroke="#1f1a19" stroke-width="1.1" />
<line x1="489.5" y1="400.9" x2="489.5" y2="418" stroke="#1f1a19" stroke-width="1.1" />
<line x1="489.5" y1="431" x2="489.5" y2="448" stroke="#1f1a19" stroke-width="1.1" />
<line x1="463.8" y1="419.5" x2="490.2" y2="419.5" stroke="#1f1a19" stroke-width="1.3" />
<line x1="463.8" y1="429.5" x2="490.2" y2="429.5" stroke="#1f1a19" stroke-width="1.3" />
<line x1="480.4" y1="424.5" x2="504.5" y2="424.5" stroke="#1f1a19" stroke-width="1.3" />
<path d="M490.2,419.4 L493,419.4 L493,415.2 L502.2,415.2 Q507.5,417 507.5,424.2 Q507.5,431.4 502.2,434 L493,434 L493,429.5 L490.2,429.5" fill="none" stroke="#1f1a19" stroke-width="1.1" />
<path d="M493,417.3 L501.5,417.3 Q505.3,419 505.3,424.2 Q505.3,429.5 501.5,431.8 L493,431.8" fill="none" stroke="#1f1a19" stroke-width="0.9" />
<line x1="504.5" y1="431" x2="504.5" y2="489" stroke="#1f1a19" stroke-width="1.3" />
<line x1="493.5" y1="434.8" x2="493.5" y2="464.9" stroke="#1f1a19" stroke-width="1.3" />
<line x1="467.5" y1="400.9" x2="467.5" y2="443" stroke="#1f1a19" stroke-width="1.3" />
<path d="M467.90,419.40 L465.80,410.40 L470.00,410.40 Z" fill="#1f1a19"/>
<path d="M467.90,429.50 L470.00,438.50 L465.80,438.50 Z" fill="#1f1a19"/>
<text transform="translate(464.52,406.90) rotate(-90) scale(0.735,1)" text-anchor="middle" font-size="13.7" fill="#3f3f3f">3.5</text>
<line x1="505.2" y1="415.5" x2="530.5" y2="415.5" stroke="#1f1a19" stroke-width="1.3" />
<line x1="505.2" y1="432.5" x2="530.5" y2="432.5" stroke="#1f1a19" stroke-width="1.3" />
<line x1="525.5" y1="403.1" x2="525.5" y2="446" stroke="#1f1a19" stroke-width="1.3" />
<path d="M525.90,415.90 L523.80,406.90 L528.00,406.90 Z" fill="#1f1a19"/>
<path d="M525.90,432.20 L528.00,441.20 L523.80,441.20 Z" fill="#1f1a19"/>
<text transform="translate(523.32,425.00) rotate(-90) scale(0.735,1)" text-anchor="middle" font-size="13.7" fill="#3f3f3f">5.7</text>
<line x1="462.3" y1="460.5" x2="506.7" y2="460.5" stroke="#1f1a19" stroke-width="1.3" />
<path d="M488.70,460.40 L479.70,462.50 L479.70,458.30 Z" fill="#1f1a19"/>
<path d="M493.20,460.40 L502.20,458.30 L502.20,462.50 Z" fill="#1f1a19"/>
<text transform="translate(467.60,457.32) scale(0.735,1)" text-anchor="middle" font-size="13.7" fill="#3f3f3f">1.8</text>
<line x1="462.3" y1="483.5" x2="517.3" y2="483.5" stroke="#1f1a19" stroke-width="1.3" />
<path d="M488.70,483.70 L479.70,485.80 L479.70,481.60 Z" fill="#1f1a19"/>
<path d="M504.50,483.70 L513.50,481.60 L513.50,485.80 Z" fill="#1f1a19"/>
<text transform="translate(467.60,481.42) scale(0.735,1)" text-anchor="middle" font-size="13.7" fill="#3f3f3f">5.5</text>
</svg>
<div style="position:absolute;left:5px;top:527px;width:1358px;height:28px;background:#cdd9eb"></div>
<div style="position:absolute;left:5px;top:555px;width:1358px;height:23px;background:#ffffff"></div>
<div style="position:absolute;left:5px;top:578px;width:1358px;height:23px;background:#ececec"></div>
<div style="position:absolute;left:5px;top:601px;width:1358px;height:22px;background:#ffffff"></div>
<div style="position:absolute;left:5px;top:623px;width:1358px;height:23px;background:#ececec"></div>
<div style="position:absolute;left:5px;top:646px;width:1358px;height:22px;background:#ffffff"></div>
<div style="position:absolute;left:5px;top:578px;width:1358px;height:1px;background:#8f8f8f"></div>
<div style="position:absolute;left:5px;top:601px;width:1358px;height:1px;background:#8f8f8f"></div>
<div style="position:absolute;left:5px;top:623px;width:1358px;height:1px;background:#8f8f8f"></div>
<div style="position:absolute;left:5px;top:646px;width:1358px;height:1px;background:#8f8f8f"></div>
<div style="position:absolute;left:5px;top:555px;width:1358px;height:2px;background:#9ba3b0"></div>
<div style="position:absolute;left:82px;top:527px;width:1px;height:28px;background:#8995aa"></div>
<div style="position:absolute;left:82px;top:555px;width:1px;height:113px;background:#8f8f8f"></div>
<div style="position:absolute;left:125px;top:527px;width:1px;height:28px;background:#8995aa"></div>
<div style="position:absolute;left:125px;top:555px;width:1px;height:113px;background:#8f8f8f"></div>
<div style="position:absolute;left:167px;top:527px;width:1px;height:28px;background:#8995aa"></div>
<div style="position:absolute;left:167px;top:555px;width:1px;height:113px;background:#8f8f8f"></div>
<div style="position:absolute;left:210px;top:527px;width:1px;height:28px;background:#8995aa"></div>
<div style="position:absolute;left:210px;top:555px;width:1px;height:113px;background:#8f8f8f"></div>
<div style="position:absolute;left:253px;top:527px;width:1px;height:28px;background:#8995aa"></div>
<div style="position:absolute;left:253px;top:555px;width:1px;height:113px;background:#8f8f8f"></div>
<div style="position:absolute;left:296px;top:527px;width:1px;height:28px;background:#8995aa"></div>
<div style="position:absolute;left:296px;top:555px;width:1px;height:113px;background:#8f8f8f"></div>
<div style="position:absolute;left:338px;top:527px;width:1px;height:28px;background:#8995aa"></div>
<div style="position:absolute;left:338px;top:555px;width:1px;height:113px;background:#8f8f8f"></div>
<div style="position:absolute;left:381px;top:527px;width:1px;height:28px;background:#8995aa"></div>
<div style="position:absolute;left:381px;top:555px;width:1px;height:113px;background:#8f8f8f"></div>
<div style="position:absolute;left:424px;top:527px;width:1px;height:28px;background:#8995aa"></div>
<div style="position:absolute;left:424px;top:555px;width:1px;height:113px;background:#8f8f8f"></div>
<div style="position:absolute;left:466px;top:527px;width:1px;height:28px;background:#8995aa"></div>
<div style="position:absolute;left:466px;top:555px;width:1px;height:113px;background:#8f8f8f"></div>
<div style="position:absolute;left:509px;top:527px;width:1px;height:28px;background:#8995aa"></div>
<div style="position:absolute;left:509px;top:555px;width:1px;height:113px;background:#8f8f8f"></div>
<div style="position:absolute;left:552px;top:527px;width:1px;height:28px;background:#8995aa"></div>
<div style="position:absolute;left:552px;top:555px;width:1px;height:113px;background:#8f8f8f"></div>
<div style="position:absolute;left:595px;top:527px;width:1px;height:28px;background:#8995aa"></div>
<div style="position:absolute;left:595px;top:555px;width:1px;height:113px;background:#8f8f8f"></div>
<div style="position:absolute;left:637px;top:527px;width:1px;height:28px;background:#8995aa"></div>
<div style="position:absolute;left:637px;top:555px;width:1px;height:113px;background:#8f8f8f"></div>
<div style="position:absolute;left:680px;top:527px;width:1px;height:28px;background:#8995aa"></div>
<div style="position:absolute;left:680px;top:555px;width:1px;height:113px;background:#8f8f8f"></div>
<div style="position:absolute;left:723px;top:527px;width:1px;height:28px;background:#8995aa"></div>
<div style="position:absolute;left:723px;top:555px;width:1px;height:113px;background:#8f8f8f"></div>
<div style="position:absolute;left:766px;top:527px;width:1px;height:28px;background:#8995aa"></div>
<div style="position:absolute;left:766px;top:555px;width:1px;height:113px;background:#8f8f8f"></div>
<div style="position:absolute;left:808px;top:527px;width:1px;height:28px;background:#8995aa"></div>
<div style="position:absolute;left:808px;top:555px;width:1px;height:113px;background:#8f8f8f"></div>
<div style="position:absolute;left:851px;top:527px;width:1px;height:28px;background:#8995aa"></div>
<div style="position:absolute;left:851px;top:555px;width:1px;height:113px;background:#8f8f8f"></div>
<div style="position:absolute;left:894px;top:527px;width:1px;height:28px;background:#8995aa"></div>
<div style="position:absolute;left:894px;top:555px;width:1px;height:113px;background:#8f8f8f"></div>
<div style="position:absolute;left:936px;top:527px;width:1px;height:28px;background:#8995aa"></div>
<div style="position:absolute;left:936px;top:555px;width:1px;height:113px;background:#8f8f8f"></div>
<div style="position:absolute;left:979px;top:527px;width:1px;height:28px;background:#8995aa"></div>
<div style="position:absolute;left:979px;top:555px;width:1px;height:113px;background:#8f8f8f"></div>
<div style="position:absolute;left:1022px;top:527px;width:1px;height:28px;background:#8995aa"></div>
<div style="position:absolute;left:1022px;top:555px;width:1px;height:113px;background:#8f8f8f"></div>
<div style="position:absolute;left:1065px;top:527px;width:1px;height:28px;background:#8995aa"></div>
<div style="position:absolute;left:1065px;top:555px;width:1px;height:113px;background:#8f8f8f"></div>
<div style="position:absolute;left:1107px;top:527px;width:1px;height:28px;background:#8995aa"></div>
<div style="position:absolute;left:1107px;top:555px;width:1px;height:113px;background:#8f8f8f"></div>
<div style="position:absolute;left:1150px;top:527px;width:1px;height:28px;background:#8995aa"></div>
<div style="position:absolute;left:1150px;top:555px;width:1px;height:113px;background:#8f8f8f"></div>
<div style="position:absolute;left:1193px;top:527px;width:1px;height:28px;background:#8995aa"></div>
<div style="position:absolute;left:1193px;top:555px;width:1px;height:113px;background:#8f8f8f"></div>
<div style="position:absolute;left:1235px;top:527px;width:1px;height:28px;background:#8995aa"></div>
<div style="position:absolute;left:1235px;top:555px;width:1px;height:113px;background:#8f8f8f"></div>
<div style="position:absolute;left:1278px;top:527px;width:1px;height:28px;background:#8995aa"></div>
<div style="position:absolute;left:1278px;top:555px;width:1px;height:113px;background:#8f8f8f"></div>
<div style="position:absolute;left:1321px;top:527px;width:1px;height:28px;background:#8995aa"></div>
<div style="position:absolute;left:1321px;top:555px;width:1px;height:113px;background:#8f8f8f"></div>
<div class="tb" style="left:3px;top:525px;width:1362px;height:145px"></div>
<div class="hc" style="left:5px;top:527.80px;width:78px;height:28px;line-height:28px">有效行程</div>
<div class="hc" style="left:82px;top:527.80px;width:44px;height:28px;line-height:28px">100</div>
<div class="hc" style="left:125px;top:527.80px;width:43px;height:28px;line-height:28px">150</div>
<div class="hc" style="left:167px;top:527.80px;width:44px;height:28px;line-height:28px">200</div>
<div class="hc" style="left:210px;top:527.80px;width:44px;height:28px;line-height:28px">250</div>
<div class="hc" style="left:253px;top:527.80px;width:44px;height:28px;line-height:28px">300</div>
<div class="hc" style="left:296px;top:527.80px;width:43px;height:28px;line-height:28px">350</div>
<div class="hc" style="left:338px;top:527.80px;width:44px;height:28px;line-height:28px">400</div>
<div class="hc" style="left:381px;top:527.80px;width:44px;height:28px;line-height:28px">450</div>
<div class="hc" style="left:424px;top:527.80px;width:43px;height:28px;line-height:28px">500</div>
<div class="hc" style="left:466px;top:527.80px;width:44px;height:28px;line-height:28px">550</div>
<div class="hc" style="left:509px;top:527.80px;width:44px;height:28px;line-height:28px">600</div>
<div class="hc" style="left:552px;top:527.80px;width:44px;height:28px;line-height:28px">650</div>
<div class="hc" style="left:595px;top:527.80px;width:43px;height:28px;line-height:28px">700</div>
<div class="hc" style="left:637px;top:527.80px;width:44px;height:28px;line-height:28px">750</div>
<div class="hc" style="left:680px;top:527.80px;width:44px;height:28px;line-height:28px">800</div>
<div class="hc" style="left:723px;top:527.80px;width:44px;height:28px;line-height:28px">850</div>
<div class="hc" style="left:766px;top:527.80px;width:43px;height:28px;line-height:28px">900</div>
<div class="hc" style="left:808px;top:527.80px;width:44px;height:28px;line-height:28px">950</div>
<div class="hc" style="left:851px;top:527.80px;width:44px;height:28px;line-height:28px">1000</div>
<div class="hc" style="left:894px;top:527.80px;width:43px;height:28px;line-height:28px">1050</div>
<div class="hc" style="left:936px;top:527.80px;width:44px;height:28px;line-height:28px">1100</div>
<div class="hc" style="left:979px;top:527.80px;width:44px;height:28px;line-height:28px">1150</div>
<div class="hc" style="left:1022px;top:527.80px;width:44px;height:28px;line-height:28px">1200</div>
<div class="hc" style="left:1065px;top:527.80px;width:43px;height:28px;line-height:28px">1250</div>
<div class="hc" style="left:1107px;top:527.80px;width:44px;height:28px;line-height:28px">1300</div>
<div class="hc" style="left:1150px;top:527.80px;width:44px;height:28px;line-height:28px">1350</div>
<div class="hc" style="left:1193px;top:527.80px;width:43px;height:28px;line-height:28px">1400</div>
<div class="hc" style="left:1235px;top:527.80px;width:44px;height:28px;line-height:28px">1450</div>
<div class="hc" style="left:1278px;top:527.80px;width:44px;height:28px;line-height:28px">1500</div>
<div class="hc" style="left:1321px;top:527.80px;width:42px;height:28px;line-height:28px">1550</div>
<div class="bc" style="left:5px;top:556.00px;width:78px;height:21px;line-height:21px">L</div>
<div class="bc" style="left:82px;top:556.00px;width:44px;height:21px;line-height:21px">370</div>
<div class="bc" style="left:125px;top:556.00px;width:43px;height:21px;line-height:21px">420</div>
<div class="bc" style="left:167px;top:556.00px;width:44px;height:21px;line-height:21px">470</div>
<div class="bc" style="left:210px;top:556.00px;width:44px;height:21px;line-height:21px">520</div>
<div class="bc" style="left:253px;top:556.00px;width:44px;height:21px;line-height:21px">570</div>
<div class="bc" style="left:296px;top:556.00px;width:43px;height:21px;line-height:21px">620</div>
<div class="bc" style="left:338px;top:556.00px;width:44px;height:21px;line-height:21px">670</div>
<div class="bc" style="left:381px;top:556.00px;width:44px;height:21px;line-height:21px">720</div>
<div class="bc" style="left:424px;top:556.00px;width:43px;height:21px;line-height:21px">770</div>
<div class="bc" style="left:466px;top:556.00px;width:44px;height:21px;line-height:21px">820</div>
<div class="bc" style="left:509px;top:556.00px;width:44px;height:21px;line-height:21px">870</div>
<div class="bc" style="left:552px;top:556.00px;width:44px;height:21px;line-height:21px">920</div>
<div class="bc" style="left:595px;top:556.00px;width:43px;height:21px;line-height:21px">970</div>
<div class="bc" style="left:637px;top:556.00px;width:44px;height:21px;line-height:21px">1020</div>
<div class="bc" style="left:680px;top:556.00px;width:44px;height:21px;line-height:21px">1070</div>
<div class="bc" style="left:723px;top:556.00px;width:44px;height:21px;line-height:21px">1120</div>
<div class="bc" style="left:766px;top:556.00px;width:43px;height:21px;line-height:21px">1170</div>
<div class="bc" style="left:808px;top:556.00px;width:44px;height:21px;line-height:21px">1220</div>
<div class="bc" style="left:851px;top:556.00px;width:44px;height:21px;line-height:21px">1270</div>
<div class="bc" style="left:894px;top:556.00px;width:43px;height:21px;line-height:21px">1320</div>
<div class="bc" style="left:936px;top:556.00px;width:44px;height:21px;line-height:21px">1370</div>
<div class="bc" style="left:979px;top:556.00px;width:44px;height:21px;line-height:21px">1420</div>
<div class="bc" style="left:1022px;top:556.00px;width:44px;height:21px;line-height:21px">1470</div>
<div class="bc" style="left:1065px;top:556.00px;width:43px;height:21px;line-height:21px">1520</div>
<div class="bc" style="left:1107px;top:556.00px;width:44px;height:21px;line-height:21px">1570</div>
<div class="bc" style="left:1150px;top:556.00px;width:44px;height:21px;line-height:21px">1620</div>
<div class="bc" style="left:1193px;top:556.00px;width:43px;height:21px;line-height:21px">1670</div>
<div class="bc" style="left:1235px;top:556.00px;width:44px;height:21px;line-height:21px">1720</div>
<div class="bc" style="left:1278px;top:556.00px;width:44px;height:21px;line-height:21px">1770</div>
<div class="bc" style="left:1321px;top:556.00px;width:42px;height:21px;line-height:21px">1820</div>
<div class="bc" style="left:5px;top:578.50px;width:78px;height:22px;line-height:22px">A</div>
<div class="bc" style="left:82px;top:578.50px;width:44px;height:22px;line-height:22px">50</div>
<div class="bc" style="left:125px;top:578.50px;width:43px;height:22px;line-height:22px">100</div>
<div class="bc" style="left:167px;top:578.50px;width:44px;height:22px;line-height:22px">150</div>
<div class="bc" style="left:210px;top:578.50px;width:44px;height:22px;line-height:22px">200</div>
<div class="bc" style="left:253px;top:578.50px;width:44px;height:22px;line-height:22px">50</div>
<div class="bc" style="left:296px;top:578.50px;width:43px;height:22px;line-height:22px">100</div>
<div class="bc" style="left:338px;top:578.50px;width:44px;height:22px;line-height:22px">150</div>
<div class="bc" style="left:381px;top:578.50px;width:44px;height:22px;line-height:22px">200</div>
<div class="bc" style="left:424px;top:578.50px;width:43px;height:22px;line-height:22px">50</div>
<div class="bc" style="left:466px;top:578.50px;width:44px;height:22px;line-height:22px">100</div>
<div class="bc" style="left:509px;top:578.50px;width:44px;height:22px;line-height:22px">150</div>
<div class="bc" style="left:552px;top:578.50px;width:44px;height:22px;line-height:22px">200</div>
<div class="bc" style="left:595px;top:578.50px;width:43px;height:22px;line-height:22px">50</div>
<div class="bc" style="left:637px;top:578.50px;width:44px;height:22px;line-height:22px">100</div>
<div class="bc" style="left:680px;top:578.50px;width:44px;height:22px;line-height:22px">150</div>
<div class="bc" style="left:723px;top:578.50px;width:44px;height:22px;line-height:22px">200</div>
<div class="bc" style="left:766px;top:578.50px;width:43px;height:22px;line-height:22px">50</div>
<div class="bc" style="left:808px;top:578.50px;width:44px;height:22px;line-height:22px">100</div>
<div class="bc" style="left:851px;top:578.50px;width:44px;height:22px;line-height:22px">150</div>
<div class="bc" style="left:894px;top:578.50px;width:43px;height:22px;line-height:22px">200</div>
<div class="bc" style="left:936px;top:578.50px;width:44px;height:22px;line-height:22px">50</div>
<div class="bc" style="left:979px;top:578.50px;width:44px;height:22px;line-height:22px">100</div>
<div class="bc" style="left:1022px;top:578.50px;width:44px;height:22px;line-height:22px">150</div>
<div class="bc" style="left:1065px;top:578.50px;width:43px;height:22px;line-height:22px">200</div>
<div class="bc" style="left:1107px;top:578.50px;width:44px;height:22px;line-height:22px">50</div>
<div class="bc" style="left:1150px;top:578.50px;width:44px;height:22px;line-height:22px">100</div>
<div class="bc" style="left:1193px;top:578.50px;width:43px;height:22px;line-height:22px">150</div>
<div class="bc" style="left:1235px;top:578.50px;width:44px;height:22px;line-height:22px">200</div>
<div class="bc" style="left:1278px;top:578.50px;width:44px;height:22px;line-height:22px">50</div>
<div class="bc" style="left:1321px;top:578.50px;width:42px;height:22px;line-height:22px">100</div>
<div class="bc" style="left:5px;top:601.50px;width:78px;height:21px;line-height:21px">M</div>
<div class="bc" style="left:82px;top:601.50px;width:44px;height:21px;line-height:21px">1</div>
<div class="bc" style="left:125px;top:601.50px;width:43px;height:21px;line-height:21px">1</div>
<div class="bc" style="left:167px;top:601.50px;width:44px;height:21px;line-height:21px">1</div>
<div class="bc" style="left:210px;top:601.50px;width:44px;height:21px;line-height:21px">1</div>
<div class="bc" style="left:253px;top:601.50px;width:44px;height:21px;line-height:21px">2</div>
<div class="bc" style="left:296px;top:601.50px;width:43px;height:21px;line-height:21px">2</div>
<div class="bc" style="left:338px;top:601.50px;width:44px;height:21px;line-height:21px">2</div>
<div class="bc" style="left:381px;top:601.50px;width:44px;height:21px;line-height:21px">2</div>
<div class="bc" style="left:424px;top:601.50px;width:43px;height:21px;line-height:21px">3</div>
<div class="bc" style="left:466px;top:601.50px;width:44px;height:21px;line-height:21px">3</div>
<div class="bc" style="left:509px;top:601.50px;width:44px;height:21px;line-height:21px">3</div>
<div class="bc" style="left:552px;top:601.50px;width:44px;height:21px;line-height:21px">3</div>
<div class="bc" style="left:595px;top:601.50px;width:43px;height:21px;line-height:21px">4</div>
<div class="bc" style="left:637px;top:601.50px;width:44px;height:21px;line-height:21px">4</div>
<div class="bc" style="left:680px;top:601.50px;width:44px;height:21px;line-height:21px">4</div>
<div class="bc" style="left:723px;top:601.50px;width:44px;height:21px;line-height:21px">4</div>
<div class="bc" style="left:766px;top:601.50px;width:43px;height:21px;line-height:21px">5</div>
<div class="bc" style="left:808px;top:601.50px;width:44px;height:21px;line-height:21px">5</div>
<div class="bc" style="left:851px;top:601.50px;width:44px;height:21px;line-height:21px">5</div>
<div class="bc" style="left:894px;top:601.50px;width:43px;height:21px;line-height:21px">5</div>
<div class="bc" style="left:936px;top:601.50px;width:44px;height:21px;line-height:21px">6</div>
<div class="bc" style="left:979px;top:601.50px;width:44px;height:21px;line-height:21px">6</div>
<div class="bc" style="left:1022px;top:601.50px;width:44px;height:21px;line-height:21px">6</div>
<div class="bc" style="left:1065px;top:601.50px;width:43px;height:21px;line-height:21px">6</div>
<div class="bc" style="left:1107px;top:601.50px;width:44px;height:21px;line-height:21px">7</div>
<div class="bc" style="left:1150px;top:601.50px;width:44px;height:21px;line-height:21px">7</div>
<div class="bc" style="left:1193px;top:601.50px;width:43px;height:21px;line-height:21px">7</div>
<div class="bc" style="left:1235px;top:601.50px;width:44px;height:21px;line-height:21px">7</div>
<div class="bc" style="left:1278px;top:601.50px;width:44px;height:21px;line-height:21px">8</div>
<div class="bc" style="left:1321px;top:601.50px;width:42px;height:21px;line-height:21px">8</div>
<div class="bc" style="left:5px;top:623.50px;width:78px;height:22px;line-height:22px">N</div>
<div class="bc" style="left:82px;top:623.50px;width:44px;height:22px;line-height:22px">6</div>
<div class="bc" style="left:125px;top:623.50px;width:43px;height:22px;line-height:22px">6</div>
<div class="bc" style="left:167px;top:623.50px;width:44px;height:22px;line-height:22px">6</div>
<div class="bc" style="left:210px;top:623.50px;width:44px;height:22px;line-height:22px">6</div>
<div class="bc" style="left:253px;top:623.50px;width:44px;height:22px;line-height:22px">8</div>
<div class="bc" style="left:296px;top:623.50px;width:43px;height:22px;line-height:22px">8</div>
<div class="bc" style="left:338px;top:623.50px;width:44px;height:22px;line-height:22px">8</div>
<div class="bc" style="left:381px;top:623.50px;width:44px;height:22px;line-height:22px">8</div>
<div class="bc" style="left:424px;top:623.50px;width:43px;height:22px;line-height:22px">10</div>
<div class="bc" style="left:466px;top:623.50px;width:44px;height:22px;line-height:22px">10</div>
<div class="bc" style="left:509px;top:623.50px;width:44px;height:22px;line-height:22px">10</div>
<div class="bc" style="left:552px;top:623.50px;width:44px;height:22px;line-height:22px">10</div>
<div class="bc" style="left:595px;top:623.50px;width:43px;height:22px;line-height:22px">12</div>
<div class="bc" style="left:637px;top:623.50px;width:44px;height:22px;line-height:22px">12</div>
<div class="bc" style="left:680px;top:623.50px;width:44px;height:22px;line-height:22px">12</div>
<div class="bc" style="left:723px;top:623.50px;width:44px;height:22px;line-height:22px">12</div>
<div class="bc" style="left:766px;top:623.50px;width:43px;height:22px;line-height:22px">14</div>
<div class="bc" style="left:808px;top:623.50px;width:44px;height:22px;line-height:22px">14</div>
<div class="bc" style="left:851px;top:623.50px;width:44px;height:22px;line-height:22px">14</div>
<div class="bc" style="left:894px;top:623.50px;width:43px;height:22px;line-height:22px">14</div>
<div class="bc" style="left:936px;top:623.50px;width:44px;height:22px;line-height:22px">16</div>
<div class="bc" style="left:979px;top:623.50px;width:44px;height:22px;line-height:22px">16</div>
<div class="bc" style="left:1022px;top:623.50px;width:44px;height:22px;line-height:22px">16</div>
<div class="bc" style="left:1065px;top:623.50px;width:43px;height:22px;line-height:22px">16</div>
<div class="bc" style="left:1107px;top:623.50px;width:44px;height:22px;line-height:22px">18</div>
<div class="bc" style="left:1150px;top:623.50px;width:44px;height:22px;line-height:22px">18</div>
<div class="bc" style="left:1193px;top:623.50px;width:43px;height:22px;line-height:22px">18</div>
<div class="bc" style="left:1235px;top:623.50px;width:44px;height:22px;line-height:22px">18</div>
<div class="bc" style="left:1278px;top:623.50px;width:44px;height:22px;line-height:22px">20</div>
<div class="bc" style="left:1321px;top:623.50px;width:42px;height:22px;line-height:22px">20</div>
<div class="bc" style="left:5px;top:646.50px;width:78px;height:21px;line-height:21px">KG</div>
<div class="bc" style="left:82px;top:646.50px;width:44px;height:21px;line-height:21px">10.5</div>
<div class="bc" style="left:125px;top:646.50px;width:43px;height:21px;line-height:21px">11</div>
<div class="bc" style="left:167px;top:646.50px;width:44px;height:21px;line-height:21px">11.5</div>
<div class="bc" style="left:210px;top:646.50px;width:44px;height:21px;line-height:21px">12</div>
<div class="bc" style="left:253px;top:646.50px;width:44px;height:21px;line-height:21px">12.5</div>
<div class="bc" style="left:296px;top:646.50px;width:43px;height:21px;line-height:21px">13</div>
<div class="bc" style="left:338px;top:646.50px;width:44px;height:21px;line-height:21px">13.5</div>
<div class="bc" style="left:381px;top:646.50px;width:44px;height:21px;line-height:21px">14</div>
<div class="bc" style="left:424px;top:646.50px;width:43px;height:21px;line-height:21px">14.5</div>
<div class="bc" style="left:466px;top:646.50px;width:44px;height:21px;line-height:21px">15</div>
<div class="bc" style="left:509px;top:646.50px;width:44px;height:21px;line-height:21px">15.5</div>
<div class="bc" style="left:552px;top:646.50px;width:44px;height:21px;line-height:21px">16</div>
<div class="bc" style="left:595px;top:646.50px;width:43px;height:21px;line-height:21px">16.5</div>
<div class="bc" style="left:637px;top:646.50px;width:44px;height:21px;line-height:21px">17</div>
<div class="bc" style="left:680px;top:646.50px;width:44px;height:21px;line-height:21px">17.5</div>
<div class="bc" style="left:723px;top:646.50px;width:44px;height:21px;line-height:21px">18</div>
<div class="bc" style="left:766px;top:646.50px;width:43px;height:21px;line-height:21px">18.5</div>
<div class="bc" style="left:808px;top:646.50px;width:44px;height:21px;line-height:21px">19</div>
<div class="bc" style="left:851px;top:646.50px;width:44px;height:21px;line-height:21px">19.5</div>
<div class="bc" style="left:894px;top:646.50px;width:43px;height:21px;line-height:21px">20</div>
<div class="bc" style="left:936px;top:646.50px;width:44px;height:21px;line-height:21px">20.5</div>
<div class="bc" style="left:979px;top:646.50px;width:44px;height:21px;line-height:21px">21</div>
<div class="bc" style="left:1022px;top:646.50px;width:44px;height:21px;line-height:21px">21.5</div>
<div class="bc" style="left:1065px;top:646.50px;width:43px;height:21px;line-height:21px">22</div>
<div class="bc" style="left:1107px;top:646.50px;width:44px;height:21px;line-height:21px">22.5</div>
<div class="bc" style="left:1150px;top:646.50px;width:44px;height:21px;line-height:21px">23</div>
<div class="bc" style="left:1193px;top:646.50px;width:43px;height:21px;line-height:21px">23.5</div>
<div class="bc" style="left:1235px;top:646.50px;width:44px;height:21px;line-height:21px">24</div>
<div class="bc" style="left:1278px;top:646.50px;width:44px;height:21px;line-height:21px">24.5</div>
<div class="bc" style="left:1321px;top:646.50px;width:42px;height:21px;line-height:21px">25</div>
<div style="position:absolute;left:5px;top:683px;width:1358px;height:27px;background:#cdd9eb"></div>
<div style="position:absolute;left:5px;top:710px;width:1358px;height:24px;background:#ffffff"></div>
<div style="position:absolute;left:5px;top:734px;width:1358px;height:22px;background:#ececec"></div>
<div style="position:absolute;left:5px;top:756px;width:1358px;height:23px;background:#ffffff"></div>
<div style="position:absolute;left:5px;top:779px;width:1358px;height:23px;background:#ececec"></div>
<div style="position:absolute;left:5px;top:802px;width:1358px;height:21px;background:#ffffff"></div>
<div style="position:absolute;left:5px;top:734px;width:1358px;height:1px;background:#8f8f8f"></div>
<div style="position:absolute;left:5px;top:756px;width:1358px;height:1px;background:#8f8f8f"></div>
<div style="position:absolute;left:5px;top:779px;width:1358px;height:1px;background:#8f8f8f"></div>
<div style="position:absolute;left:5px;top:802px;width:1358px;height:1px;background:#8f8f8f"></div>
<div style="position:absolute;left:5px;top:710px;width:1358px;height:2px;background:#9ba3b0"></div>
<div style="position:absolute;left:82px;top:683px;width:1px;height:27px;background:#8995aa"></div>
<div style="position:absolute;left:82px;top:710px;width:1px;height:113px;background:#8f8f8f"></div>
<div style="position:absolute;left:125px;top:683px;width:1px;height:27px;background:#8995aa"></div>
<div style="position:absolute;left:125px;top:710px;width:1px;height:113px;background:#8f8f8f"></div>
<div style="position:absolute;left:167px;top:683px;width:1px;height:27px;background:#8995aa"></div>
<div style="position:absolute;left:167px;top:710px;width:1px;height:113px;background:#8f8f8f"></div>
<div style="position:absolute;left:210px;top:683px;width:1px;height:27px;background:#8995aa"></div>
<div style="position:absolute;left:210px;top:710px;width:1px;height:113px;background:#8f8f8f"></div>
<div style="position:absolute;left:253px;top:683px;width:1px;height:27px;background:#8995aa"></div>
<div style="position:absolute;left:253px;top:710px;width:1px;height:113px;background:#8f8f8f"></div>
<div style="position:absolute;left:296px;top:683px;width:1px;height:27px;background:#8995aa"></div>
<div style="position:absolute;left:296px;top:710px;width:1px;height:113px;background:#8f8f8f"></div>
<div style="position:absolute;left:338px;top:683px;width:1px;height:27px;background:#8995aa"></div>
<div style="position:absolute;left:338px;top:710px;width:1px;height:113px;background:#8f8f8f"></div>
<div style="position:absolute;left:381px;top:683px;width:1px;height:27px;background:#8995aa"></div>
<div style="position:absolute;left:381px;top:710px;width:1px;height:113px;background:#8f8f8f"></div>
<div style="position:absolute;left:424px;top:683px;width:1px;height:27px;background:#8995aa"></div>
<div style="position:absolute;left:424px;top:710px;width:1px;height:113px;background:#8f8f8f"></div>
<div style="position:absolute;left:466px;top:683px;width:1px;height:27px;background:#8995aa"></div>
<div style="position:absolute;left:466px;top:710px;width:1px;height:113px;background:#8f8f8f"></div>
<div style="position:absolute;left:509px;top:683px;width:1px;height:27px;background:#8995aa"></div>
<div style="position:absolute;left:509px;top:710px;width:1px;height:113px;background:#8f8f8f"></div>
<div style="position:absolute;left:552px;top:683px;width:1px;height:27px;background:#8995aa"></div>
<div style="position:absolute;left:552px;top:710px;width:1px;height:113px;background:#8f8f8f"></div>
<div style="position:absolute;left:595px;top:683px;width:1px;height:27px;background:#8995aa"></div>
<div style="position:absolute;left:595px;top:710px;width:1px;height:113px;background:#8f8f8f"></div>
<div style="position:absolute;left:637px;top:683px;width:1px;height:27px;background:#8995aa"></div>
<div style="position:absolute;left:637px;top:710px;width:1px;height:113px;background:#8f8f8f"></div>
<div style="position:absolute;left:680px;top:683px;width:1px;height:27px;background:#8995aa"></div>
<div style="position:absolute;left:680px;top:710px;width:1px;height:113px;background:#8f8f8f"></div>
<div style="position:absolute;left:723px;top:683px;width:1px;height:27px;background:#8995aa"></div>
<div style="position:absolute;left:723px;top:710px;width:1px;height:113px;background:#8f8f8f"></div>
<div style="position:absolute;left:766px;top:683px;width:1px;height:27px;background:#8995aa"></div>
<div style="position:absolute;left:766px;top:710px;width:1px;height:113px;background:#8f8f8f"></div>
<div style="position:absolute;left:808px;top:683px;width:1px;height:27px;background:#8995aa"></div>
<div style="position:absolute;left:808px;top:710px;width:1px;height:113px;background:#8f8f8f"></div>
<div style="position:absolute;left:851px;top:683px;width:1px;height:27px;background:#8995aa"></div>
<div style="position:absolute;left:851px;top:710px;width:1px;height:113px;background:#8f8f8f"></div>
<div style="position:absolute;left:894px;top:683px;width:1px;height:27px;background:#8995aa"></div>
<div style="position:absolute;left:894px;top:710px;width:1px;height:113px;background:#8f8f8f"></div>
<div style="position:absolute;left:936px;top:683px;width:1px;height:27px;background:#8995aa"></div>
<div style="position:absolute;left:936px;top:710px;width:1px;height:113px;background:#8f8f8f"></div>
<div style="position:absolute;left:979px;top:683px;width:1px;height:27px;background:#8995aa"></div>
<div style="position:absolute;left:979px;top:710px;width:1px;height:113px;background:#8f8f8f"></div>
<div style="position:absolute;left:1022px;top:683px;width:1px;height:27px;background:#8995aa"></div>
<div style="position:absolute;left:1022px;top:710px;width:1px;height:113px;background:#8f8f8f"></div>
<div style="position:absolute;left:1065px;top:683px;width:1px;height:27px;background:#8995aa"></div>
<div style="position:absolute;left:1065px;top:710px;width:1px;height:113px;background:#8f8f8f"></div>
<div style="position:absolute;left:1107px;top:683px;width:1px;height:27px;background:#8995aa"></div>
<div style="position:absolute;left:1107px;top:710px;width:1px;height:113px;background:#8f8f8f"></div>
<div style="position:absolute;left:1150px;top:683px;width:1px;height:27px;background:#8995aa"></div>
<div style="position:absolute;left:1150px;top:710px;width:1px;height:113px;background:#8f8f8f"></div>
<div style="position:absolute;left:1193px;top:683px;width:1px;height:27px;background:#8995aa"></div>
<div style="position:absolute;left:1193px;top:710px;width:1px;height:113px;background:#8f8f8f"></div>
<div style="position:absolute;left:1235px;top:683px;width:1px;height:27px;background:#8995aa"></div>
<div style="position:absolute;left:1235px;top:710px;width:1px;height:113px;background:#8f8f8f"></div>
<div style="position:absolute;left:1278px;top:683px;width:1px;height:27px;background:#8995aa"></div>
<div style="position:absolute;left:1278px;top:710px;width:1px;height:113px;background:#8f8f8f"></div>
<div style="position:absolute;left:1321px;top:683px;width:1px;height:27px;background:#8995aa"></div>
<div style="position:absolute;left:1321px;top:710px;width:1px;height:113px;background:#8f8f8f"></div>
<div class="tb" style="left:3px;top:681px;width:1362px;height:144px"></div>
<div class="hc" style="left:5px;top:682.50px;width:78px;height:27px;line-height:27px">有效行程</div>
<div class="hc" style="left:82px;top:682.50px;width:44px;height:27px;line-height:27px">1600</div>
<div class="hc" style="left:125px;top:682.50px;width:43px;height:27px;line-height:27px">1650</div>
<div class="hc" style="left:167px;top:682.50px;width:44px;height:27px;line-height:27px">1700</div>
<div class="hc" style="left:210px;top:682.50px;width:44px;height:27px;line-height:27px">1750</div>
<div class="hc" style="left:253px;top:682.50px;width:44px;height:27px;line-height:27px">1800</div>
<div class="hc" style="left:296px;top:682.50px;width:43px;height:27px;line-height:27px">1850</div>
<div class="hc" style="left:338px;top:682.50px;width:44px;height:27px;line-height:27px">1900</div>
<div class="hc" style="left:381px;top:682.50px;width:44px;height:27px;line-height:27px">1950</div>
<div class="hc" style="left:424px;top:682.50px;width:43px;height:27px;line-height:27px">2000</div>
<div class="hc" style="left:466px;top:682.50px;width:44px;height:27px;line-height:27px">2050</div>
<div class="hc" style="left:509px;top:682.50px;width:44px;height:27px;line-height:27px">2100</div>
<div class="hc" style="left:552px;top:682.50px;width:44px;height:27px;line-height:27px">2150</div>
<div class="hc" style="left:595px;top:682.50px;width:43px;height:27px;line-height:27px">2200</div>
<div class="hc" style="left:637px;top:682.50px;width:44px;height:27px;line-height:27px">2250</div>
<div class="hc" style="left:680px;top:682.50px;width:44px;height:27px;line-height:27px">2300</div>
<div class="hc" style="left:723px;top:682.50px;width:44px;height:27px;line-height:27px">2350</div>
<div class="hc" style="left:766px;top:682.50px;width:43px;height:27px;line-height:27px">2400</div>
<div class="hc" style="left:808px;top:682.50px;width:44px;height:27px;line-height:27px">2450</div>
<div class="hc" style="left:851px;top:682.50px;width:44px;height:27px;line-height:27px">2500</div>
<div class="hc" style="left:894px;top:682.50px;width:43px;height:27px;line-height:27px">2550</div>
<div class="hc" style="left:936px;top:682.50px;width:44px;height:27px;line-height:27px">2600</div>
<div class="hc" style="left:979px;top:682.50px;width:44px;height:27px;line-height:27px">2650</div>
<div class="hc" style="left:1022px;top:682.50px;width:44px;height:27px;line-height:27px">2700</div>
<div class="hc" style="left:1065px;top:682.50px;width:43px;height:27px;line-height:27px">2750</div>
<div class="hc" style="left:1107px;top:682.50px;width:44px;height:27px;line-height:27px">2800</div>
<div class="hc" style="left:1150px;top:682.50px;width:44px;height:27px;line-height:27px">2850</div>
<div class="hc" style="left:1193px;top:682.50px;width:43px;height:27px;line-height:27px">2900</div>
<div class="hc" style="left:1235px;top:682.50px;width:44px;height:27px;line-height:27px">2950</div>
<div class="hc" style="left:1278px;top:682.50px;width:44px;height:27px;line-height:27px">3000</div>
<div class="hc" style="left:1321px;top:682.50px;width:42px;height:27px;line-height:27px">3050</div>
<div class="bc" style="left:5px;top:710.60px;width:78px;height:22px;line-height:22px">L</div>
<div class="bc" style="left:82px;top:710.60px;width:44px;height:22px;line-height:22px">1870</div>
<div class="bc" style="left:125px;top:710.60px;width:43px;height:22px;line-height:22px">1920</div>
<div class="bc" style="left:167px;top:710.60px;width:44px;height:22px;line-height:22px">1970</div>
<div class="bc" style="left:210px;top:710.60px;width:44px;height:22px;line-height:22px">2020</div>
<div class="bc" style="left:253px;top:710.60px;width:44px;height:22px;line-height:22px">2070</div>
<div class="bc" style="left:296px;top:710.60px;width:43px;height:22px;line-height:22px">2120</div>
<div class="bc" style="left:338px;top:710.60px;width:44px;height:22px;line-height:22px">2170</div>
<div class="bc" style="left:381px;top:710.60px;width:44px;height:22px;line-height:22px">2220</div>
<div class="bc" style="left:424px;top:710.60px;width:43px;height:22px;line-height:22px">2270</div>
<div class="bc" style="left:466px;top:710.60px;width:44px;height:22px;line-height:22px">2320</div>
<div class="bc" style="left:509px;top:710.60px;width:44px;height:22px;line-height:22px">2370</div>
<div class="bc" style="left:552px;top:710.60px;width:44px;height:22px;line-height:22px">2420</div>
<div class="bc" style="left:595px;top:710.60px;width:43px;height:22px;line-height:22px">2470</div>
<div class="bc" style="left:637px;top:710.60px;width:44px;height:22px;line-height:22px">2520</div>
<div class="bc" style="left:680px;top:710.60px;width:44px;height:22px;line-height:22px">2570</div>
<div class="bc" style="left:723px;top:710.60px;width:44px;height:22px;line-height:22px">2620</div>
<div class="bc" style="left:766px;top:710.60px;width:43px;height:22px;line-height:22px">2670</div>
<div class="bc" style="left:808px;top:710.60px;width:44px;height:22px;line-height:22px">2720</div>
<div class="bc" style="left:851px;top:710.60px;width:44px;height:22px;line-height:22px">2770</div>
<div class="bc" style="left:894px;top:710.60px;width:43px;height:22px;line-height:22px">2820</div>
<div class="bc" style="left:936px;top:710.60px;width:44px;height:22px;line-height:22px">2870</div>
<div class="bc" style="left:979px;top:710.60px;width:44px;height:22px;line-height:22px">2920</div>
<div class="bc" style="left:1022px;top:710.60px;width:44px;height:22px;line-height:22px">2970</div>
<div class="bc" style="left:1065px;top:710.60px;width:43px;height:22px;line-height:22px">3020</div>
<div class="bc" style="left:1107px;top:710.60px;width:44px;height:22px;line-height:22px">3070</div>
<div class="bc" style="left:1150px;top:710.60px;width:44px;height:22px;line-height:22px">3120</div>
<div class="bc" style="left:1193px;top:710.60px;width:43px;height:22px;line-height:22px">3170</div>
<div class="bc" style="left:1235px;top:710.60px;width:44px;height:22px;line-height:22px">3220</div>
<div class="bc" style="left:1278px;top:710.60px;width:44px;height:22px;line-height:22px">3270</div>
<div class="bc" style="left:1321px;top:710.60px;width:42px;height:22px;line-height:22px">3320</div>
<div class="bc" style="left:5px;top:734.60px;width:78px;height:21px;line-height:21px">A</div>
<div class="bc" style="left:82px;top:734.60px;width:44px;height:21px;line-height:21px">150</div>
<div class="bc" style="left:125px;top:734.60px;width:43px;height:21px;line-height:21px">200</div>
<div class="bc" style="left:167px;top:734.60px;width:44px;height:21px;line-height:21px">50</div>
<div class="bc" style="left:210px;top:734.60px;width:44px;height:21px;line-height:21px">100</div>
<div class="bc" style="left:253px;top:734.60px;width:44px;height:21px;line-height:21px">150</div>
<div class="bc" style="left:296px;top:734.60px;width:43px;height:21px;line-height:21px">200</div>
<div class="bc" style="left:338px;top:734.60px;width:44px;height:21px;line-height:21px">50</div>
<div class="bc" style="left:381px;top:734.60px;width:44px;height:21px;line-height:21px">100</div>
<div class="bc" style="left:424px;top:734.60px;width:43px;height:21px;line-height:21px">150</div>
<div class="bc" style="left:466px;top:734.60px;width:44px;height:21px;line-height:21px">200</div>
<div class="bc" style="left:509px;top:734.60px;width:44px;height:21px;line-height:21px">50</div>
<div class="bc" style="left:552px;top:734.60px;width:44px;height:21px;line-height:21px">100</div>
<div class="bc" style="left:595px;top:734.60px;width:43px;height:21px;line-height:21px">150</div>
<div class="bc" style="left:637px;top:734.60px;width:44px;height:21px;line-height:21px">200</div>
<div class="bc" style="left:680px;top:734.60px;width:44px;height:21px;line-height:21px">50</div>
<div class="bc" style="left:723px;top:734.60px;width:44px;height:21px;line-height:21px">100</div>
<div class="bc" style="left:766px;top:734.60px;width:43px;height:21px;line-height:21px">150</div>
<div class="bc" style="left:808px;top:734.60px;width:44px;height:21px;line-height:21px">200</div>
<div class="bc" style="left:851px;top:734.60px;width:44px;height:21px;line-height:21px">50</div>
<div class="bc" style="left:894px;top:734.60px;width:43px;height:21px;line-height:21px">100</div>
<div class="bc" style="left:936px;top:734.60px;width:44px;height:21px;line-height:21px">150</div>
<div class="bc" style="left:979px;top:734.60px;width:44px;height:21px;line-height:21px">200</div>
<div class="bc" style="left:1022px;top:734.60px;width:44px;height:21px;line-height:21px">50</div>
<div class="bc" style="left:1065px;top:734.60px;width:43px;height:21px;line-height:21px">100</div>
<div class="bc" style="left:1107px;top:734.60px;width:44px;height:21px;line-height:21px">150</div>
<div class="bc" style="left:1150px;top:734.60px;width:44px;height:21px;line-height:21px">200</div>
<div class="bc" style="left:1193px;top:734.60px;width:43px;height:21px;line-height:21px">50</div>
<div class="bc" style="left:1235px;top:734.60px;width:44px;height:21px;line-height:21px">100</div>
<div class="bc" style="left:1278px;top:734.60px;width:44px;height:21px;line-height:21px">150</div>
<div class="bc" style="left:1321px;top:734.60px;width:42px;height:21px;line-height:21px">200</div>
<div class="bc" style="left:5px;top:756.60px;width:78px;height:22px;line-height:22px">M</div>
<div class="bc" style="left:82px;top:756.60px;width:44px;height:22px;line-height:22px">8</div>
<div class="bc" style="left:125px;top:756.60px;width:43px;height:22px;line-height:22px">8</div>
<div class="bc" style="left:167px;top:756.60px;width:44px;height:22px;line-height:22px">9</div>
<div class="bc" style="left:210px;top:756.60px;width:44px;height:22px;line-height:22px">9</div>
<div class="bc" style="left:253px;top:756.60px;width:44px;height:22px;line-height:22px">9</div>
<div class="bc" style="left:296px;top:756.60px;width:43px;height:22px;line-height:22px">9</div>
<div class="bc" style="left:338px;top:756.60px;width:44px;height:22px;line-height:22px">10</div>
<div class="bc" style="left:381px;top:756.60px;width:44px;height:22px;line-height:22px">10</div>
<div class="bc" style="left:424px;top:756.60px;width:43px;height:22px;line-height:22px">10</div>
<div class="bc" style="left:466px;top:756.60px;width:44px;height:22px;line-height:22px">10</div>
<div class="bc" style="left:509px;top:756.60px;width:44px;height:22px;line-height:22px">11</div>
<div class="bc" style="left:552px;top:756.60px;width:44px;height:22px;line-height:22px">11</div>
<div class="bc" style="left:595px;top:756.60px;width:43px;height:22px;line-height:22px">11</div>
<div class="bc" style="left:637px;top:756.60px;width:44px;height:22px;line-height:22px">11</div>
<div class="bc" style="left:680px;top:756.60px;width:44px;height:22px;line-height:22px">12</div>
<div class="bc" style="left:723px;top:756.60px;width:44px;height:22px;line-height:22px">12</div>
<div class="bc" style="left:766px;top:756.60px;width:43px;height:22px;line-height:22px">12</div>
<div class="bc" style="left:808px;top:756.60px;width:44px;height:22px;line-height:22px">12</div>
<div class="bc" style="left:851px;top:756.60px;width:44px;height:22px;line-height:22px">13</div>
<div class="bc" style="left:894px;top:756.60px;width:43px;height:22px;line-height:22px">13</div>
<div class="bc" style="left:936px;top:756.60px;width:44px;height:22px;line-height:22px">13</div>
<div class="bc" style="left:979px;top:756.60px;width:44px;height:22px;line-height:22px">13</div>
<div class="bc" style="left:1022px;top:756.60px;width:44px;height:22px;line-height:22px">14</div>
<div class="bc" style="left:1065px;top:756.60px;width:43px;height:22px;line-height:22px">14</div>
<div class="bc" style="left:1107px;top:756.60px;width:44px;height:22px;line-height:22px">14</div>
<div class="bc" style="left:1150px;top:756.60px;width:44px;height:22px;line-height:22px">14</div>
<div class="bc" style="left:1193px;top:756.60px;width:43px;height:22px;line-height:22px">15</div>
<div class="bc" style="left:1235px;top:756.60px;width:44px;height:22px;line-height:22px">15</div>
<div class="bc" style="left:1278px;top:756.60px;width:44px;height:22px;line-height:22px">15</div>
<div class="bc" style="left:1321px;top:756.60px;width:42px;height:22px;line-height:22px">15</div>
<div class="bc" style="left:5px;top:779.60px;width:78px;height:22px;line-height:22px">N</div>
<div class="bc" style="left:82px;top:779.60px;width:44px;height:22px;line-height:22px">20</div>
<div class="bc" style="left:125px;top:779.60px;width:43px;height:22px;line-height:22px">20</div>
<div class="bc" style="left:167px;top:779.60px;width:44px;height:22px;line-height:22px">22</div>
<div class="bc" style="left:210px;top:779.60px;width:44px;height:22px;line-height:22px">22</div>
<div class="bc" style="left:253px;top:779.60px;width:44px;height:22px;line-height:22px">22</div>
<div class="bc" style="left:296px;top:779.60px;width:43px;height:22px;line-height:22px">22</div>
<div class="bc" style="left:338px;top:779.60px;width:44px;height:22px;line-height:22px">24</div>
<div class="bc" style="left:381px;top:779.60px;width:44px;height:22px;line-height:22px">24</div>
<div class="bc" style="left:424px;top:779.60px;width:43px;height:22px;line-height:22px">24</div>
<div class="bc" style="left:466px;top:779.60px;width:44px;height:22px;line-height:22px">24</div>
<div class="bc" style="left:509px;top:779.60px;width:44px;height:22px;line-height:22px">26</div>
<div class="bc" style="left:552px;top:779.60px;width:44px;height:22px;line-height:22px">26</div>
<div class="bc" style="left:595px;top:779.60px;width:43px;height:22px;line-height:22px">26</div>
<div class="bc" style="left:637px;top:779.60px;width:44px;height:22px;line-height:22px">26</div>
<div class="bc" style="left:680px;top:779.60px;width:44px;height:22px;line-height:22px">28</div>
<div class="bc" style="left:723px;top:779.60px;width:44px;height:22px;line-height:22px">28</div>
<div class="bc" style="left:766px;top:779.60px;width:43px;height:22px;line-height:22px">28</div>
<div class="bc" style="left:808px;top:779.60px;width:44px;height:22px;line-height:22px">28</div>
<div class="bc" style="left:851px;top:779.60px;width:44px;height:22px;line-height:22px">30</div>
<div class="bc" style="left:894px;top:779.60px;width:43px;height:22px;line-height:22px">30</div>
<div class="bc" style="left:936px;top:779.60px;width:44px;height:22px;line-height:22px">30</div>
<div class="bc" style="left:979px;top:779.60px;width:44px;height:22px;line-height:22px">30</div>
<div class="bc" style="left:1022px;top:779.60px;width:44px;height:22px;line-height:22px">32</div>
<div class="bc" style="left:1065px;top:779.60px;width:43px;height:22px;line-height:22px">32</div>
<div class="bc" style="left:1107px;top:779.60px;width:44px;height:22px;line-height:22px">32</div>
<div class="bc" style="left:1150px;top:779.60px;width:44px;height:22px;line-height:22px">32</div>
<div class="bc" style="left:1193px;top:779.60px;width:43px;height:22px;line-height:22px">34</div>
<div class="bc" style="left:1235px;top:779.60px;width:44px;height:22px;line-height:22px">34</div>
<div class="bc" style="left:1278px;top:779.60px;width:44px;height:22px;line-height:22px">34</div>
<div class="bc" style="left:1321px;top:779.60px;width:42px;height:22px;line-height:22px">34</div>
<div class="bc" style="left:5px;top:802.40px;width:78px;height:20px;line-height:20px">KG</div>
<div class="bc" style="left:82px;top:802.40px;width:44px;height:20px;line-height:20px">25.5</div>
<div class="bc" style="left:125px;top:802.40px;width:43px;height:20px;line-height:20px">26</div>
<div class="bc" style="left:167px;top:802.40px;width:44px;height:20px;line-height:20px">26.5</div>
<div class="bc" style="left:210px;top:802.40px;width:44px;height:20px;line-height:20px">27</div>
<div class="bc" style="left:253px;top:802.40px;width:44px;height:20px;line-height:20px">27.5</div>
<div class="bc" style="left:296px;top:802.40px;width:43px;height:20px;line-height:20px">28</div>
<div class="bc" style="left:338px;top:802.40px;width:44px;height:20px;line-height:20px">28.5</div>
<div class="bc" style="left:381px;top:802.40px;width:44px;height:20px;line-height:20px">29</div>
<div class="bc" style="left:424px;top:802.40px;width:43px;height:20px;line-height:20px">29.5</div>
<div class="bc" style="left:466px;top:802.40px;width:44px;height:20px;line-height:20px">30</div>
<div class="bc" style="left:509px;top:802.40px;width:44px;height:20px;line-height:20px">30.5</div>
<div class="bc" style="left:552px;top:802.40px;width:44px;height:20px;line-height:20px">31</div>
<div class="bc" style="left:595px;top:802.40px;width:43px;height:20px;line-height:20px">31.5</div>
<div class="bc" style="left:637px;top:802.40px;width:44px;height:20px;line-height:20px">32</div>
<div class="bc" style="left:680px;top:802.40px;width:44px;height:20px;line-height:20px">32.5</div>
<div class="bc" style="left:723px;top:802.40px;width:44px;height:20px;line-height:20px">33</div>
<div class="bc" style="left:766px;top:802.40px;width:43px;height:20px;line-height:20px">33.5</div>
<div class="bc" style="left:808px;top:802.40px;width:44px;height:20px;line-height:20px">34</div>
<div class="bc" style="left:851px;top:802.40px;width:44px;height:20px;line-height:20px">34.5</div>
<div class="bc" style="left:894px;top:802.40px;width:43px;height:20px;line-height:20px">35</div>
<div class="bc" style="left:936px;top:802.40px;width:44px;height:20px;line-height:20px">35.5</div>
<div class="bc" style="left:979px;top:802.40px;width:44px;height:20px;line-height:20px">36</div>
<div class="bc" style="left:1022px;top:802.40px;width:44px;height:20px;line-height:20px">36.5</div>
<div class="bc" style="left:1065px;top:802.40px;width:43px;height:20px;line-height:20px">37</div>
<div class="bc" style="left:1107px;top:802.40px;width:44px;height:20px;line-height:20px">37.5</div>
<div class="bc" style="left:1150px;top:802.40px;width:44px;height:20px;line-height:20px">38</div>
<div class="bc" style="left:1193px;top:802.40px;width:43px;height:20px;line-height:20px">38.5</div>
<div class="bc" style="left:1235px;top:802.40px;width:44px;height:20px;line-height:20px">39</div>
<div class="bc" style="left:1278px;top:802.40px;width:44px;height:20px;line-height:20px">39.5</div>
<div class="bc" style="left:1321px;top:802.40px;width:42px;height:20px;line-height:20px">40</div>
</div>
</body></html>
